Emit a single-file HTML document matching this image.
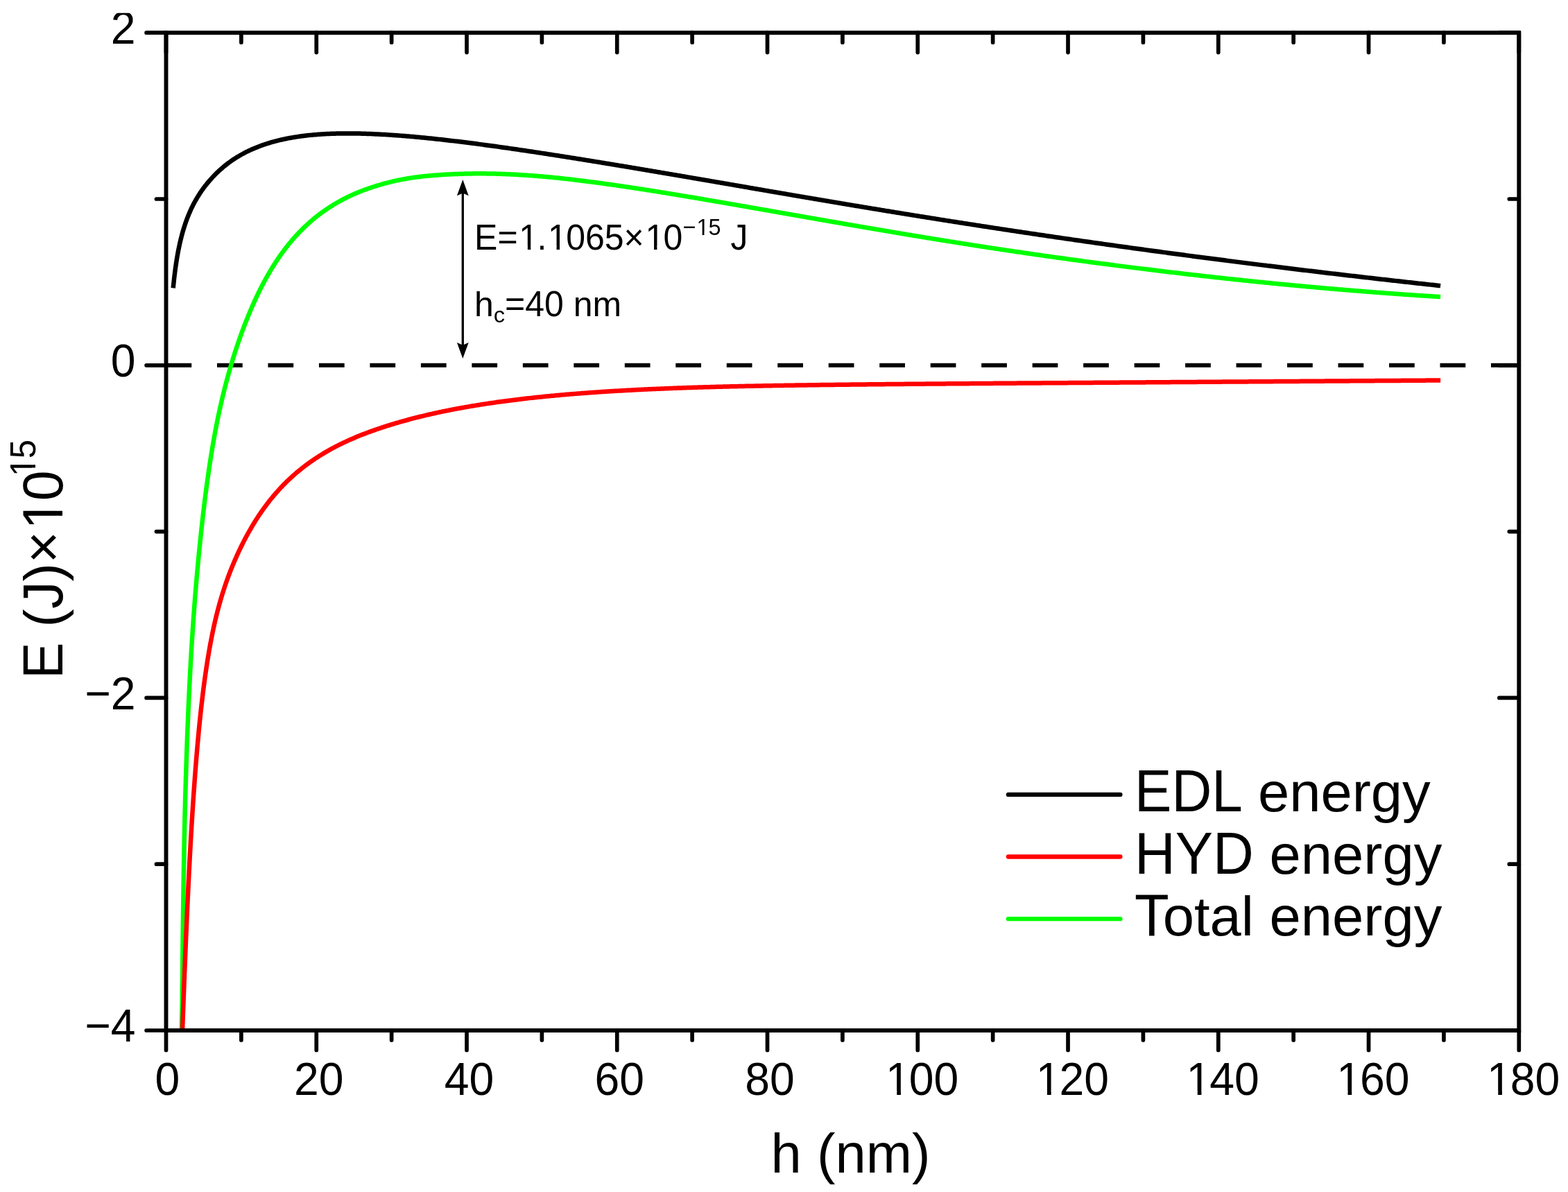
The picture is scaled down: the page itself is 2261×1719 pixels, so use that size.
<!DOCTYPE html>
<html><head><meta charset="utf-8"><title>Interaction energy</title>
<style>
html,body{margin:0;padding:0;background:#fff}
body{width:2261px;height:1719px;overflow:hidden}
svg{display:block}
text{font-family:"Liberation Sans",Arial,Helvetica,sans-serif;fill:#000;white-space:pre;font-kerning:none}
</style></head><body>
<svg width="2261" height="1719" viewBox="0 0 2261 1719">
<rect x="0" y="0" width="2261" height="1719" fill="#fff"/>
<defs><clipPath id="plot"><rect x="239.5" y="47.2" width="1950.8000000000002" height="1438.8"/></clipPath>
<clipPath id="page"><rect x="0" y="18.8" width="2261" height="1719"/></clipPath></defs>
<line x1="239.5" y1="526.80" x2="2190.3" y2="526.80" stroke="#000" stroke-width="6.0" stroke-dasharray="36.74 36.74"/>
<g clip-path="url(#plot)" fill="none" stroke-linejoin="round" stroke-width="6.5">
<path d="M249.70,1700.00 L251.70,1700.00 L253.70,1700.00 L255.70,1700.00 L257.70,1700.00 L258.64,1698.93 L258.66,1696.93 L258.69,1694.93 L258.72,1692.93 L258.74,1690.93 L258.77,1688.93 L258.80,1686.93 L258.82,1684.94 L258.85,1682.94 L258.88,1680.94 L258.91,1678.94 L258.93,1676.94 L258.96,1674.94 L258.99,1672.94 L259.02,1670.94 L259.04,1668.94 L259.07,1666.95 L259.10,1664.95 L259.13,1662.95 L259.16,1660.95 L259.18,1658.95 L259.21,1656.95 L259.24,1654.95 L259.27,1652.95 L259.30,1650.96 L259.33,1648.96 L259.35,1646.96 L259.38,1644.96 L259.41,1642.96 L259.44,1640.96 L259.47,1638.96 L259.50,1636.96 L259.53,1634.97 L259.56,1632.97 L259.59,1630.97 L259.62,1628.97 L259.65,1626.97 L259.68,1624.97 L259.70,1622.97 L259.73,1620.97 L259.76,1618.98 L259.79,1616.98 L259.82,1614.98 L259.85,1612.98 L259.88,1610.98 L259.91,1608.98 L259.94,1606.98 L259.98,1604.98 L260.01,1602.99 L260.04,1600.99 L260.07,1598.99 L260.10,1596.99 L260.13,1594.99 L260.16,1592.99 L260.19,1590.99 L260.22,1588.99 L260.25,1587.00 L260.28,1585.00 L260.32,1583.00 L260.35,1581.00 L260.38,1579.00 L260.41,1577.00 L260.44,1575.00 L260.47,1573.00 L260.51,1571.01 L260.54,1569.01 L260.57,1567.01 L260.60,1565.01 L260.63,1563.01 L260.67,1561.01 L260.70,1559.01 L260.73,1557.01 L260.76,1555.02 L260.80,1553.02 L260.83,1551.02 L260.86,1549.02 L260.90,1547.02 L260.93,1545.02 L260.96,1543.02 L261.00,1541.02 L261.03,1539.03 L261.06,1537.03 L261.10,1535.03 L261.13,1533.03 L261.17,1531.03 L261.20,1529.03 L261.23,1527.03 L261.27,1525.04 L261.30,1523.04 L261.34,1521.04 L261.37,1519.04 L261.41,1517.04 L261.44,1515.04 L261.48,1513.04 L261.51,1511.04 L261.55,1509.05 L261.58,1507.05 L261.62,1505.05 L261.65,1503.05 L261.69,1501.05 L261.72,1499.05 L261.76,1497.05 L261.79,1495.06 L261.83,1493.06 L261.87,1491.06 L261.90,1489.06 L261.94,1487.06 L261.98,1485.06 L262.01,1483.06 L262.05,1481.06 L262.09,1479.07 L262.12,1477.07 L262.16,1475.07 L262.20,1473.07 L262.23,1471.07 L262.27,1469.07 L262.31,1467.07 L262.35,1465.08 L262.38,1463.08 L262.42,1461.08 L262.46,1459.08 L262.50,1457.08 L262.54,1455.08 L262.57,1453.08 L262.61,1451.09 L262.65,1449.09 L262.69,1447.09 L262.71,1445.09 L262.73,1443.09 L262.75,1441.09 L262.76,1439.09 L262.78,1437.09 L262.80,1435.09 L262.82,1433.10 L262.83,1431.10 L262.85,1429.10 L262.87,1427.10 L262.89,1425.10 L262.91,1423.10 L262.93,1421.10 L262.94,1419.10 L262.96,1417.10 L262.98,1415.11 L263.00,1413.11 L263.02,1411.11 L263.04,1409.11 L263.06,1407.11 L263.07,1405.11 L263.09,1403.11 L263.11,1401.11 L263.13,1399.11 L263.15,1397.12 L263.17,1395.12 L263.19,1393.12 L263.21,1391.12 L263.23,1389.12 L263.25,1387.12 L263.27,1385.12 L263.29,1383.12 L263.31,1381.12 L263.33,1379.13 L263.35,1377.13 L263.38,1375.13 L263.40,1373.13 L263.42,1371.13 L263.44,1369.13 L263.46,1367.13 L263.48,1365.13 L263.50,1363.13 L263.53,1361.14 L263.55,1359.14 L263.57,1357.14 L263.59,1355.14 L263.62,1353.14 L263.64,1351.14 L263.66,1349.14 L263.68,1347.14 L263.71,1345.15 L263.73,1343.15 L263.75,1341.15 L263.78,1339.15 L263.80,1337.15 L263.82,1335.15 L263.85,1333.15 L263.87,1331.15 L263.90,1329.15 L263.92,1327.16 L263.95,1325.16 L263.97,1323.16 L264.00,1321.16 L264.02,1319.16 L264.05,1317.16 L264.07,1315.16 L264.10,1313.16 L264.13,1311.17 L264.15,1309.17 L264.18,1307.17 L264.21,1305.17 L264.23,1303.17 L264.26,1301.17 L264.29,1299.17 L264.31,1297.17 L264.34,1295.17 L264.37,1293.18 L264.40,1291.18 L264.43,1289.18 L264.46,1287.18 L264.49,1285.18 L264.51,1283.18 L264.54,1281.18 L264.57,1279.18 L264.60,1277.19 L264.63,1275.19 L264.66,1273.19 L264.69,1271.19 L264.73,1269.19 L264.76,1267.19 L264.79,1265.19 L264.82,1263.19 L264.85,1261.20 L264.88,1259.20 L264.92,1257.20 L264.95,1255.20 L264.98,1253.20 L265.02,1251.20 L265.05,1249.20 L265.09,1247.20 L265.12,1245.21 L265.15,1243.21 L265.19,1241.21 L265.22,1239.21 L265.26,1237.21 L265.30,1235.21 L265.33,1233.21 L265.37,1231.22 L265.41,1229.22 L265.44,1227.22 L265.48,1225.22 L265.52,1223.22 L265.56,1221.22 L265.60,1219.22 L265.64,1217.23 L265.68,1215.23 L265.72,1213.23 L265.76,1211.23 L265.80,1209.23 L265.84,1207.23 L265.88,1205.23 L265.92,1203.24 L265.96,1201.24 L266.01,1199.24 L266.05,1197.24 L266.09,1195.24 L266.14,1193.24 L266.18,1191.24 L266.23,1189.25 L266.27,1187.25 L266.32,1185.25 L266.37,1183.25 L266.41,1181.25 L266.46,1179.25 L266.51,1177.26 L266.56,1175.26 L266.60,1173.26 L266.65,1171.26 L266.70,1169.26 L266.75,1167.26 L266.80,1165.27 L266.85,1163.27 L266.91,1161.27 L266.96,1159.27 L267.01,1157.27 L267.06,1155.27 L267.12,1153.28 L267.17,1151.28 L267.23,1149.28 L267.28,1147.28 L267.34,1145.28 L267.39,1143.28 L267.45,1141.29 L267.50,1139.29 L267.56,1137.29 L267.62,1135.29 L267.68,1133.29 L267.74,1131.30 L267.80,1129.30 L267.86,1127.30 L267.92,1125.30 L267.98,1123.30 L268.04,1121.30 L268.10,1119.31 L268.16,1117.31 L268.22,1115.31 L268.28,1113.31 L268.35,1111.31 L268.41,1109.32 L268.47,1107.32 L268.54,1105.32 L268.60,1103.32 L268.67,1101.32 L268.73,1099.33 L268.80,1097.33 L268.87,1095.33 L268.93,1093.33 L269.00,1091.34 L269.07,1089.34 L269.14,1087.34 L269.21,1085.34 L269.28,1083.34 L269.35,1081.35 L269.42,1079.35 L269.49,1077.35 L269.56,1075.35 L269.63,1073.36 L269.70,1071.36 L269.78,1069.36 L269.85,1067.36 L269.92,1065.37 L270.00,1063.37 L270.07,1061.37 L270.15,1059.37 L270.22,1057.37 L270.30,1055.38 L270.38,1053.38 L270.46,1051.38 L270.53,1049.39 L270.61,1047.39 L270.69,1045.39 L270.77,1043.39 L270.85,1041.40 L270.93,1039.40 L271.02,1037.40 L271.10,1035.40 L271.18,1033.41 L271.27,1031.41 L271.35,1029.41 L271.43,1027.41 L271.52,1025.42 L271.61,1023.42 L271.69,1021.42 L271.78,1019.43 L271.87,1017.43 L271.96,1015.43 L272.05,1013.44 L272.14,1011.44 L272.23,1009.44 L272.32,1007.44 L272.41,1005.45 L272.50,1003.45 L272.60,1001.45 L272.69,999.46 L272.79,997.46 L272.88,995.46 L272.98,993.47 L273.08,991.47 L273.17,989.47 L273.27,987.48 L273.37,985.48 L273.47,983.48 L273.57,981.49 L273.68,979.49 L273.78,977.50 L273.88,975.50 L273.99,973.50 L274.09,971.51 L274.20,969.51 L274.30,967.51 L274.41,965.52 L274.52,963.52 L274.63,961.53 L274.74,959.53 L274.85,957.53 L274.96,955.54 L275.07,953.54 L275.18,951.55 L275.30,949.55 L275.41,947.56 L275.53,945.56 L275.65,943.56 L275.76,941.57 L275.88,939.57 L276.00,937.58 L276.12,935.58 L276.24,933.59 L276.36,931.59 L276.49,929.60 L276.61,927.60 L276.74,925.61 L276.86,923.61 L276.99,921.62 L277.12,919.62 L277.25,917.63 L277.38,915.63 L277.51,913.64 L277.64,911.64 L277.77,909.65 L277.90,907.65 L278.04,905.66 L278.17,903.66 L278.31,901.67 L278.45,899.68 L278.59,897.68 L278.73,895.69 L278.87,893.69 L279.01,891.70 L279.15,889.71 L279.30,887.71 L279.44,885.72 L279.59,883.72 L279.73,881.73 L279.88,879.74 L280.03,877.74 L280.18,875.75 L280.33,873.76 L280.48,871.76 L280.64,869.77 L280.79,867.78 L280.95,865.79 L281.10,863.79 L281.26,861.80 L281.42,859.81 L281.58,857.81 L281.74,855.82 L281.90,853.83 L282.07,851.84 L282.23,849.85 L282.40,847.85 L282.56,845.86 L282.73,843.87 L282.90,841.88 L283.07,839.89 L283.24,837.89 L283.41,835.90 L283.59,833.91 L283.76,831.92 L283.94,829.93 L284.11,827.94 L284.29,825.95 L284.47,823.96 L284.65,821.96 L284.83,819.97 L285.01,817.98 L285.20,815.99 L285.38,814.00 L285.57,812.01 L285.75,810.02 L285.94,808.03 L286.13,806.04 L286.32,804.05 L286.51,802.06 L286.71,800.07 L286.90,798.08 L287.09,796.09 L287.29,794.10 L287.49,792.11 L287.69,790.13 L287.88,788.14 L288.09,786.15 L288.29,784.16 L288.49,782.17 L288.69,780.18 L288.90,778.19 L289.11,776.20 L289.31,774.22 L289.52,772.23 L289.73,770.24 L289.94,768.25 L290.16,766.27 L290.37,764.28 L290.59,762.29 L290.80,760.30 L291.02,758.32 L291.24,756.33 L291.46,754.34 L291.68,752.36 L291.90,750.37 L292.13,748.38 L292.35,746.40 L292.58,744.41 L292.81,742.42 L293.04,740.44 L293.27,738.45 L293.50,736.47 L293.74,734.48 L293.98,732.50 L294.21,730.51 L294.45,728.53 L294.69,726.54 L294.94,724.56 L295.18,722.58 L295.43,720.59 L295.67,718.61 L295.92,716.63 L296.18,714.64 L296.43,712.66 L296.68,710.68 L296.94,708.69 L297.20,706.71 L297.46,704.73 L297.72,702.75 L297.98,700.77 L298.25,698.79 L298.52,696.80 L298.79,694.82 L299.06,692.84 L299.33,690.86 L299.61,688.88 L299.89,686.90 L300.17,684.92 L300.45,682.95 L300.74,680.97 L301.02,678.99 L301.31,677.01 L301.60,675.03 L301.90,673.06 L302.19,671.08 L302.49,669.10 L302.79,667.13 L303.09,665.15 L303.40,663.17 L303.71,661.20 L304.02,659.23 L304.33,657.25 L304.65,655.28 L304.97,653.30 L305.29,651.33 L305.61,649.36 L305.94,647.39 L306.27,645.41 L306.60,643.44 L306.94,641.47 L307.27,639.50 L307.62,637.53 L307.96,635.56 L308.31,633.60 L308.66,631.63 L309.01,629.66 L309.37,627.69 L309.73,625.73 L310.09,623.76 L310.46,621.80 L310.83,619.83 L311.20,617.87 L311.58,615.90 L311.96,613.94 L312.35,611.98 L312.74,610.02 L313.13,608.06 L313.52,606.10 L313.92,604.14 L314.33,602.18 L314.73,600.23 L315.14,598.27 L315.56,596.31 L315.97,594.36 L316.40,592.41 L316.82,590.45 L317.25,588.50 L317.69,586.55 L318.12,584.60 L318.56,582.65 L319.01,580.70 L319.46,578.75 L319.91,576.81 L320.37,574.86 L320.83,572.91 L321.30,570.97 L321.77,569.03 L322.24,567.09 L322.72,565.14 L323.20,563.20 L323.69,561.27 L324.18,559.33 L324.67,557.39 L325.17,555.45 L325.67,553.52 L326.18,551.59 L326.69,549.65 L327.21,547.72 L327.73,545.79 L328.25,543.86 L328.78,541.94 L329.31,540.01 L329.85,538.08 L330.39,536.16 L330.94,534.24 L331.49,532.32 L332.05,530.40 L332.61,528.48 L333.17,526.56 L333.74,524.64 L334.31,522.73 L334.89,520.81 L335.48,518.90 L336.06,516.99 L336.66,515.08 L337.25,513.17 L337.85,511.27 L338.46,509.36 L339.07,507.46 L339.69,505.56 L340.31,503.66 L340.93,501.76 L341.56,499.86 L342.20,497.97 L342.84,496.07 L343.48,494.18 L344.13,492.29 L344.79,490.40 L345.45,488.52 L346.11,486.63 L346.78,484.75 L347.46,482.87 L348.14,480.99 L348.82,479.11 L349.51,477.23 L350.21,475.36 L350.91,473.48 L351.61,471.61 L352.32,469.75 L353.04,467.88 L353.76,466.02 L354.49,464.15 L355.22,462.29 L355.96,460.44 L356.70,458.58 L357.45,456.73 L358.20,454.88 L358.97,453.03 L359.73,451.18 L360.50,449.34 L361.28,447.50 L362.07,445.66 L362.86,443.82 L363.66,441.99 L364.46,440.16 L365.27,438.33 L366.09,436.51 L366.91,434.68 L367.74,432.87 L368.58,431.05 L369.42,429.24 L370.27,427.43 L371.13,425.62 L372.00,423.82 L372.87,422.02 L373.75,420.23 L374.64,418.44 L375.53,416.65 L376.43,414.87 L377.35,413.09 L378.26,411.31 L379.19,409.54 L380.12,407.77 L381.07,406.01 L382.02,404.25 L382.98,402.50 L383.95,400.75 L384.92,399.01 L385.91,397.27 L386.90,395.53 L387.90,393.80 L388.92,392.08 L389.94,390.36 L390.97,388.65 L392.00,386.94 L393.05,385.24 L394.11,383.54 L395.18,381.85 L396.25,380.16 L397.34,378.49 L398.43,376.81 L399.54,375.15 L400.65,373.49 L401.78,371.84 L402.92,370.19 L404.06,368.55 L405.22,366.92 L406.38,365.30 L407.56,363.68 L408.75,362.07 L409.94,360.47 L411.15,358.88 L412.37,357.30 L413.60,355.72 L414.84,354.15 L416.09,352.59 L417.35,351.04 L418.62,349.50 L419.90,347.97 L421.20,346.44 L422.50,344.93 L423.82,343.42 L425.14,341.93 L426.48,340.44 L427.83,338.97 L429.19,337.50 L430.56,336.05 L431.94,334.60 L433.34,333.17 L434.74,331.75 L436.16,330.33 L437.58,328.93 L439.02,327.55 L440.47,326.17 L441.93,324.80 L443.40,323.45 L444.88,322.10 L446.37,320.77 L447.87,319.46 L449.39,318.15 L450.91,316.86 L452.45,315.58 L453.99,314.31 L455.55,313.05 L457.11,311.81 L458.69,310.58 L460.28,309.36 L461.87,308.16 L463.48,306.97 L465.09,305.79 L466.72,304.63 L468.36,303.48 L470.00,302.35 L471.66,301.23 L473.32,300.12 L474.99,299.02 L476.67,297.94 L478.36,296.88 L480.06,295.82 L481.77,294.78 L483.49,293.76 L485.21,292.75 L486.95,291.75 L488.69,290.77 L490.43,289.80 L492.19,288.85 L493.95,287.90 L495.73,286.98 L497.50,286.06 L499.29,285.16 L501.08,284.28 L502.88,283.41 L504.69,282.55 L506.50,281.71 L508.32,280.88 L510.14,280.06 L511.97,279.26 L513.81,278.47 L515.65,277.70 L517.50,276.94 L519.36,276.20 L521.22,275.47 L523.09,274.75 L524.96,274.05 L526.83,273.36 L528.72,272.69 L530.60,272.03 L532.49,271.38 L534.39,270.74 L536.29,270.11 L538.19,269.49 L540.09,268.89 L542.00,268.29 L543.91,267.70 L545.82,267.13 L547.74,266.56 L549.66,266.00 L551.58,265.46 L553.51,264.92 L555.44,264.40 L557.37,263.89 L559.31,263.39 L561.24,262.89 L563.19,262.41 L565.13,261.95 L567.07,261.49 L569.02,261.04 L570.97,260.61 L572.93,260.19 L574.89,259.78 L576.84,259.38 L578.80,258.99 L580.77,258.62 L582.73,258.25 L584.70,257.90 L586.67,257.56 L588.64,257.23 L590.62,256.91 L592.59,256.60 L594.57,256.31 L596.55,256.03 L598.53,255.75 L600.51,255.49 L602.49,255.23 L604.48,254.99 L606.46,254.75 L608.45,254.52 L610.43,254.31 L612.42,254.09 L614.41,253.89 L616.40,253.70 L618.39,253.51 L620.38,253.33 L622.37,253.15 L624.36,252.98 L626.36,252.82 L628.35,252.67 L630.34,252.52 L632.34,252.37 L634.33,252.23 L636.32,252.10 L638.32,251.97 L640.31,251.85 L642.31,251.73 L644.31,251.62 L646.30,251.51 L648.30,251.40 L650.29,251.30 L652.29,251.21 L654.29,251.12 L656.29,251.03 L658.28,250.95 L660.28,250.88 L662.28,250.81 L664.28,250.74 L666.27,250.68 L668.27,250.63 L670.27,250.57 L672.27,250.53 L674.27,250.48 L676.27,250.45 L678.27,250.41 L680.26,250.39 L682.26,250.36 L684.26,250.34 L686.26,250.33 L688.26,250.32 L690.26,250.32 L692.26,250.32 L694.26,250.32 L696.26,250.33 L698.25,250.34 L700.25,250.36 L702.25,250.38 L704.25,250.41 L706.25,250.44 L708.25,250.47 L710.25,250.51 L712.25,250.55 L714.24,250.60 L716.24,250.65 L718.24,250.71 L720.24,250.77 L722.24,250.83 L724.23,250.90 L726.23,250.97 L728.23,251.05 L730.23,251.13 L732.22,251.21 L734.22,251.30 L736.22,251.39 L738.21,251.49 L740.21,251.59 L742.21,251.69 L744.20,251.80 L746.20,251.91 L748.20,252.03 L750.19,252.14 L752.19,252.27 L754.18,252.39 L756.18,252.52 L758.17,252.65 L760.16,252.79 L762.16,252.93 L764.15,253.07 L766.15,253.22 L768.14,253.36 L770.13,253.52 L772.13,253.67 L774.12,253.83 L776.11,253.99 L778.10,254.16 L780.09,254.33 L782.09,254.50 L784.08,254.68 L786.07,254.85 L788.06,255.03 L790.05,255.22 L792.04,255.40 L794.03,255.59 L796.02,255.79 L798.01,255.98 L800.00,256.18 L801.99,256.38 L803.98,256.59 L805.96,256.79 L807.95,257.00 L809.94,257.21 L811.93,257.43 L813.91,257.65 L815.90,257.87 L817.89,258.09 L819.87,258.31 L821.86,258.54 L823.85,258.77 L825.83,259.00 L827.82,259.23 L829.80,259.47 L831.79,259.70 L833.77,259.94 L835.76,260.19 L837.74,260.43 L839.72,260.68 L841.71,260.92 L843.69,261.17 L845.67,261.43 L847.66,261.68 L849.64,261.94 L851.62,262.19 L853.60,262.45 L855.59,262.71 L857.57,262.97 L859.55,263.24 L861.53,263.50 L863.51,263.77 L865.49,264.04 L867.47,264.31 L869.45,264.58 L871.43,264.86 L873.41,265.13 L875.39,265.41 L877.37,265.69 L879.35,265.97 L881.33,266.25 L883.31,266.53 L885.29,266.81 L887.27,267.10 L889.25,267.38 L891.22,267.67 L893.20,267.96 L895.18,268.25 L897.16,268.54 L899.13,268.83 L901.11,269.13 L903.09,269.42 L905.07,269.72 L907.04,270.01 L909.02,270.31 L911.00,270.61 L912.97,270.91 L914.95,271.21 L916.92,271.51 L918.90,271.82 L920.88,272.12 L922.85,272.42 L924.83,272.73 L926.80,273.04 L928.78,273.34 L930.75,273.65 L932.73,273.96 L934.70,274.27 L936.68,274.58 L938.65,274.90 L940.63,275.21 L942.60,275.52 L944.57,275.84 L946.55,276.15 L948.52,276.47 L950.50,276.79 L952.47,277.10 L954.44,277.42 L956.42,277.74 L958.39,278.06 L960.36,278.38 L962.34,278.70 L964.31,279.02 L966.28,279.35 L968.25,279.67 L970.23,279.99 L972.20,280.32 L974.17,280.64 L976.14,280.97 L978.12,281.29 L980.09,281.62 L982.06,281.95 L984.03,282.27 L986.00,282.60 L987.98,282.93 L989.95,283.26 L991.92,283.59 L993.89,283.92 L995.86,284.25 L997.83,284.58 L999.80,284.92 L1001.78,285.25 L1003.75,285.58 L1005.72,285.91 L1007.69,286.25 L1009.66,286.58 L1011.63,286.92 L1013.60,287.25 L1015.57,287.59 L1017.54,287.92 L1019.51,288.26 L1021.48,288.60 L1023.45,288.93 L1025.42,289.27 L1027.39,289.61 L1029.36,289.95 L1031.33,290.29 L1033.30,290.62 L1035.27,290.96 L1037.24,291.30 L1039.21,291.64 L1041.18,291.98 L1043.15,292.32 L1045.12,292.66 L1047.09,293.00 L1049.06,293.35 L1051.03,293.69 L1053.00,294.03 L1054.97,294.37 L1056.94,294.71 L1058.91,295.06 L1060.88,295.40 L1062.85,295.74 L1064.82,296.08 L1066.79,296.43 L1068.76,296.77 L1070.73,297.11 L1072.70,297.46 L1074.66,297.80 L1076.63,298.15 L1078.60,298.49 L1080.57,298.83 L1082.54,299.18 L1084.51,299.52 L1086.48,299.87 L1088.45,300.21 L1090.42,300.56 L1092.39,300.90 L1094.35,301.25 L1096.32,301.59 L1098.29,301.94 L1100.26,302.28 L1102.23,302.63 L1104.20,302.97 L1106.17,303.32 L1108.14,303.66 L1110.11,304.01 L1112.08,304.36 L1114.04,304.70 L1116.01,305.05 L1117.98,305.39 L1119.95,305.74 L1121.92,306.08 L1123.89,306.43 L1125.86,306.77 L1127.83,307.12 L1129.80,307.47 L1131.76,307.81 L1133.73,308.16 L1135.70,308.50 L1137.67,308.85 L1139.64,309.19 L1141.61,309.54 L1143.58,309.88 L1145.55,310.23 L1147.52,310.57 L1149.48,310.92 L1151.45,311.26 L1153.42,311.61 L1155.39,311.95 L1157.36,312.30 L1159.33,312.64 L1161.30,312.99 L1163.27,313.33 L1165.24,313.68 L1167.21,314.02 L1169.17,314.37 L1171.14,314.71 L1173.11,315.06 L1175.08,315.40 L1177.05,315.74 L1179.02,316.09 L1180.99,316.43 L1182.96,316.77 L1184.93,317.12 L1186.90,317.46 L1188.87,317.80 L1190.84,318.15 L1192.81,318.49 L1194.77,318.83 L1196.74,319.18 L1198.71,319.52 L1200.68,319.86 L1202.65,320.20 L1204.62,320.54 L1206.59,320.89 L1208.56,321.23 L1210.53,321.57 L1212.50,321.91 L1214.47,322.25 L1216.44,322.59 L1218.41,322.93 L1220.38,323.27 L1222.35,323.61 L1224.32,323.95 L1226.29,324.29 L1228.26,324.63 L1230.23,324.97 L1232.20,325.31 L1234.17,325.65 L1236.14,325.99 L1238.11,326.33 L1240.08,326.67 L1242.05,327.01 L1244.02,327.34 L1245.99,327.68 L1247.96,328.02 L1249.93,328.36 L1251.90,328.70 L1253.87,329.03 L1255.84,329.37 L1257.81,329.71 L1259.78,330.04 L1261.75,330.38 L1263.72,330.71 L1265.69,331.05 L1267.66,331.39 L1269.63,331.72 L1271.61,332.06 L1273.58,332.39 L1275.55,332.72 L1277.52,333.06 L1279.49,333.39 L1281.46,333.73 L1283.43,334.06 L1285.40,334.39 L1287.37,334.72 L1289.34,335.06 L1291.32,335.39 L1293.29,335.72 L1295.26,336.05 L1297.23,336.38 L1299.20,336.71 L1301.17,337.04 L1303.14,337.37 L1305.12,337.70 L1307.09,338.03 L1309.06,338.36 L1311.03,338.69 L1313.00,339.01 L1314.98,339.34 L1316.95,339.67 L1318.92,339.99 L1320.89,340.32 L1322.86,340.65 L1324.84,340.97 L1326.81,341.30 L1328.78,341.62 L1330.75,341.95 L1332.73,342.27 L1334.70,342.59 L1336.67,342.92 L1338.64,343.24 L1340.62,343.56 L1342.59,343.88 L1344.56,344.20 L1346.54,344.53 L1348.51,344.85 L1350.48,345.17 L1352.46,345.49 L1354.43,345.80 L1356.40,346.12 L1358.38,346.44 L1360.35,346.76 L1362.32,347.08 L1364.30,347.39 L1366.27,347.71 L1368.24,348.03 L1370.22,348.34 L1372.19,348.66 L1374.17,348.97 L1376.14,349.29 L1378.11,349.60 L1380.09,349.91 L1382.06,350.23 L1384.04,350.54 L1386.01,350.85 L1387.99,351.16 L1389.96,351.47 L1391.94,351.78 L1393.91,352.09 L1395.89,352.40 L1397.86,352.71 L1399.84,353.02 L1401.81,353.33 L1403.79,353.63 L1405.76,353.94 L1407.74,354.25 L1409.71,354.55 L1411.69,354.86 L1413.66,355.17 L1415.64,355.47 L1417.61,355.77 L1419.59,356.08 L1421.57,356.38 L1423.54,356.68 L1425.52,356.99 L1427.49,357.29 L1429.47,357.59 L1431.45,357.89 L1433.42,358.19 L1435.40,358.49 L1437.38,358.79 L1439.35,359.09 L1441.33,359.38 L1443.31,359.68 L1445.28,359.98 L1447.26,360.28 L1449.24,360.57 L1451.21,360.87 L1453.19,361.16 L1455.17,361.46 L1457.14,361.75 L1459.12,362.04 L1461.10,362.34 L1463.08,362.63 L1465.05,362.92 L1467.03,363.21 L1469.01,363.50 L1470.99,363.79 L1472.97,364.08 L1474.94,364.37 L1476.92,364.66 L1478.90,364.95 L1480.88,365.24 L1482.86,365.53 L1484.83,365.81 L1486.81,366.10 L1488.79,366.39 L1490.77,366.67 L1492.75,366.96 L1494.73,367.24 L1496.71,367.52 L1498.68,367.81 L1500.66,368.09 L1502.64,368.37 L1504.62,368.65 L1506.60,368.93 L1508.58,369.22 L1510.56,369.50 L1512.54,369.78 L1514.52,370.05 L1516.50,370.33 L1518.48,370.61 L1520.46,370.89 L1522.44,371.17 L1524.42,371.44 L1526.40,371.72 L1528.38,371.99 L1530.36,372.27 L1532.34,372.54 L1534.32,372.82 L1536.30,373.09 L1538.28,373.36 L1540.26,373.64 L1542.24,373.91 L1544.22,374.18 L1546.20,374.45 L1548.18,374.72 L1550.16,374.99 L1552.14,375.26 L1554.12,375.53 L1556.10,375.80 L1558.08,376.07 L1560.06,376.33 L1562.04,376.60 L1564.03,376.87 L1566.01,377.13 L1567.99,377.40 L1569.97,377.66 L1571.95,377.93 L1573.93,378.19 L1575.91,378.45 L1577.90,378.72 L1579.88,378.98 L1581.86,379.24 L1583.84,379.50 L1585.82,379.76 L1587.80,380.02 L1589.79,380.28 L1591.77,380.54 L1593.75,380.80 L1595.73,381.06 L1597.72,381.32 L1599.70,381.58 L1601.68,381.83 L1603.66,382.09 L1605.64,382.34 L1607.63,382.60 L1609.61,382.86 L1611.59,383.11 L1613.58,383.36 L1615.56,383.62 L1617.54,383.87 L1619.52,384.12 L1621.51,384.37 L1623.49,384.63 L1625.47,384.88 L1627.46,385.13 L1629.44,385.38 L1631.42,385.63 L1633.41,385.88 L1635.39,386.12 L1637.37,386.37 L1639.36,386.62 L1641.34,386.87 L1643.33,387.11 L1645.31,387.36 L1647.29,387.60 L1649.28,387.85 L1651.26,388.09 L1653.24,388.34 L1655.23,388.58 L1657.21,388.82 L1659.20,389.07 L1661.18,389.31 L1663.17,389.55 L1665.15,389.79 L1667.13,390.03 L1669.12,390.27 L1671.10,390.51 L1673.09,390.75 L1675.07,390.99 L1677.06,391.23 L1679.04,391.47 L1681.03,391.71 L1683.01,391.94 L1685.00,392.18 L1686.98,392.42 L1688.97,392.65 L1690.95,392.89 L1692.94,393.12 L1694.92,393.35 L1696.91,393.59 L1698.89,393.82 L1700.88,394.05 L1702.86,394.29 L1704.85,394.52 L1706.83,394.75 L1708.82,394.98 L1710.81,395.21 L1712.79,395.44 L1714.78,395.67 L1716.76,395.90 L1718.75,396.13 L1720.74,396.36 L1722.72,396.58 L1724.71,396.81 L1726.69,397.04 L1728.68,397.26 L1730.67,397.49 L1732.65,397.71 L1734.64,397.94 L1736.62,398.16 L1738.61,398.39 L1740.60,398.61 L1742.58,398.83 L1744.57,399.05 L1746.56,399.28 L1748.54,399.50 L1750.53,399.72 L1752.52,399.94 L1754.50,400.16 L1756.49,400.37 L1758.48,400.59 L1760.47,400.81 L1762.45,401.03 L1764.44,401.24 L1766.43,401.46 L1768.41,401.68 L1770.40,401.89 L1772.39,402.11 L1774.38,402.32 L1776.36,402.53 L1778.35,402.75 L1780.34,402.96 L1782.33,403.17 L1784.32,403.38 L1786.30,403.59 L1788.29,403.80 L1790.28,404.01 L1792.27,404.22 L1794.26,404.43 L1796.24,404.64 L1798.23,404.84 L1800.22,405.05 L1802.21,405.26 L1804.20,405.46 L1806.19,405.67 L1808.17,405.87 L1810.16,406.08 L1812.15,406.28 L1814.14,406.48 L1816.13,406.68 L1818.12,406.89 L1820.11,407.09 L1822.09,407.29 L1824.08,407.49 L1826.07,407.69 L1828.06,407.88 L1830.05,408.08 L1832.04,408.28 L1834.03,408.48 L1836.02,408.67 L1838.01,408.87 L1840.00,409.06 L1841.99,409.26 L1843.98,409.45 L1845.97,409.65 L1847.96,409.84 L1849.95,410.03 L1851.94,410.22 L1853.93,410.41 L1855.91,410.60 L1857.90,410.79 L1859.89,410.98 L1861.88,411.17 L1863.88,411.36 L1865.87,411.55 L1867.86,411.74 L1869.85,411.92 L1871.84,412.11 L1873.83,412.29 L1875.82,412.48 L1877.81,412.66 L1879.80,412.85 L1881.79,413.03 L1883.78,413.21 L1885.77,413.39 L1887.76,413.57 L1889.75,413.75 L1891.74,413.93 L1893.73,414.11 L1895.72,414.29 L1897.72,414.47 L1899.71,414.65 L1901.70,414.82 L1903.69,415.00 L1905.68,415.18 L1907.67,415.35 L1909.66,415.53 L1911.65,415.70 L1913.65,415.87 L1915.64,416.05 L1917.63,416.22 L1919.62,416.39 L1921.61,416.56 L1923.60,416.73 L1925.60,416.90 L1927.59,417.07 L1929.58,417.24 L1931.57,417.41 L1933.56,417.57 L1935.55,417.74 L1937.55,417.91 L1939.54,418.07 L1941.53,418.24 L1943.52,418.40 L1945.52,418.57 L1947.51,418.73 L1949.50,418.89 L1951.49,419.06 L1953.48,419.22 L1955.48,419.38 L1957.47,419.54 L1959.46,419.70 L1961.45,419.86 L1963.45,420.02 L1965.44,420.18 L1967.43,420.33 L1969.43,420.49 L1971.42,420.65 L1973.41,420.80 L1975.40,420.96 L1977.40,421.11 L1979.39,421.27 L1981.38,421.42 L1983.38,421.57 L1985.37,421.72 L1987.36,421.88 L1989.36,422.03 L1991.35,422.18 L1993.34,422.33 L1995.34,422.48 L1997.33,422.63 L1999.32,422.77 L2001.32,422.92 L2003.31,423.07 L2005.30,423.22 L2007.30,423.36 L2009.29,423.51 L2011.29,423.65 L2013.28,423.80 L2015.27,423.94 L2017.27,424.08 L2019.26,424.23 L2021.25,424.37 L2023.25,424.51 L2025.24,424.65 L2027.24,424.79 L2029.23,424.93 L2031.22,425.07 L2033.22,425.21 L2035.21,425.35 L2037.21,425.48 L2039.20,425.62 L2041.20,425.76 L2043.19,425.89 L2045.18,426.03 L2047.18,426.16 L2049.17,426.30 L2051.17,426.43 L2053.16,426.56 L2055.16,426.70 L2057.15,426.83 L2059.15,426.96 L2061.14,427.09 L2063.14,427.22 L2065.13,427.35 L2067.13,427.48 L2069.12,427.61 L2071.12,427.74 L2073.11,427.86 L2075.11,427.99 L2077.10,428.12" stroke="#00ff00"/>
<path d="M249.70,1700.00 L251.70,1700.00 L253.70,1700.00 L255.70,1700.00 L257.70,1700.00 L258.71,1698.99 L258.74,1696.99 L258.77,1694.99 L258.80,1692.99 L258.84,1690.99 L258.87,1688.99 L258.90,1686.99 L258.94,1684.99 L258.97,1682.99 L259.01,1680.99 L259.04,1678.99 L259.07,1676.99 L259.11,1674.99 L259.14,1673.00 L259.18,1671.00 L259.21,1669.00 L259.25,1667.00 L259.28,1665.00 L259.31,1663.00 L259.35,1661.00 L259.38,1659.00 L259.42,1657.00 L259.46,1655.00 L259.49,1653.00 L259.53,1651.00 L259.56,1649.00 L259.60,1647.00 L259.63,1645.00 L259.67,1643.00 L259.71,1641.00 L259.74,1639.00 L259.78,1637.00 L259.82,1635.00 L259.85,1633.00 L259.89,1631.00 L259.93,1629.00 L259.96,1627.00 L260.00,1625.01 L260.04,1623.01 L260.08,1621.01 L260.11,1619.01 L260.15,1617.01 L260.19,1615.01 L260.23,1613.01 L260.26,1611.01 L260.30,1609.01 L260.34,1607.01 L260.38,1605.01 L260.42,1603.01 L260.46,1601.01 L260.50,1599.01 L260.54,1597.01 L260.58,1595.01 L260.62,1593.01 L260.66,1591.01 L260.69,1589.01 L260.73,1587.01 L260.78,1585.02 L260.82,1583.02 L260.86,1581.02 L260.90,1579.02 L260.94,1577.02 L260.98,1575.02 L261.02,1573.02 L261.06,1571.02 L261.10,1569.02 L261.14,1567.02 L261.18,1565.02 L261.23,1563.02 L261.27,1561.02 L261.31,1559.02 L261.35,1557.02 L261.40,1555.02 L261.44,1553.02 L261.48,1551.02 L261.52,1549.03 L261.57,1547.03 L261.61,1545.03 L261.65,1543.03 L261.70,1541.03 L261.74,1539.03 L261.79,1537.03 L261.83,1535.03 L261.87,1533.03 L261.92,1531.03 L261.96,1529.03 L262.01,1527.03 L262.05,1525.03 L262.10,1523.03 L262.14,1521.03 L262.19,1519.03 L262.24,1517.03 L262.28,1515.04 L262.33,1513.04 L262.37,1511.04 L262.42,1509.04 L262.47,1507.04 L262.51,1505.04 L262.56,1503.04 L262.61,1501.04 L262.66,1499.04 L262.70,1497.04 L262.75,1495.04 L262.80,1493.04 L262.85,1491.04 L262.90,1489.04 L262.97,1487.05 L263.04,1485.05 L263.12,1483.05 L263.19,1481.05 L263.26,1479.05 L263.34,1477.05 L263.41,1475.05 L263.48,1473.06 L263.56,1471.06 L263.63,1469.06 L263.70,1467.06 L263.78,1465.06 L263.85,1463.06 L263.93,1461.06 L264.00,1459.07 L264.07,1457.07 L264.15,1455.07 L264.22,1453.07 L264.30,1451.07 L264.37,1449.07 L264.45,1447.08 L264.52,1445.08 L264.60,1443.08 L264.67,1441.08 L264.75,1439.08 L264.82,1437.08 L264.90,1435.08 L264.98,1433.09 L265.05,1431.09 L265.13,1429.09 L265.20,1427.09 L265.28,1425.09 L265.36,1423.09 L265.44,1421.10 L265.51,1419.10 L265.59,1417.10 L265.67,1415.10 L265.74,1413.10 L265.82,1411.10 L265.90,1409.11 L265.98,1407.11 L266.06,1405.11 L266.14,1403.11 L266.21,1401.11 L266.29,1399.11 L266.37,1397.12 L266.45,1395.12 L266.53,1393.12 L266.61,1391.12 L266.69,1389.12 L266.77,1387.12 L266.85,1385.13 L266.93,1383.13 L267.01,1381.13 L267.09,1379.13 L267.18,1377.13 L267.26,1375.13 L267.34,1373.14 L267.42,1371.14 L267.50,1369.14 L267.59,1367.14 L267.67,1365.14 L267.75,1363.15 L267.84,1361.15 L267.92,1359.15 L268.00,1357.15 L268.09,1355.15 L268.17,1353.15 L268.26,1351.16 L268.34,1349.16 L268.43,1347.16 L268.51,1345.16 L268.60,1343.16 L268.69,1341.17 L268.77,1339.17 L268.86,1337.17 L268.95,1335.17 L269.03,1333.17 L269.12,1331.18 L269.21,1329.18 L269.30,1327.18 L269.39,1325.18 L269.48,1323.18 L269.56,1321.19 L269.65,1319.19 L269.74,1317.19 L269.83,1315.19 L269.93,1313.20 L270.02,1311.20 L270.11,1309.20 L270.20,1307.20 L270.29,1305.20 L270.38,1303.21 L270.48,1301.21 L270.57,1299.21 L270.66,1297.21 L270.76,1295.22 L270.85,1293.22 L270.95,1291.22 L271.04,1289.22 L271.14,1287.22 L271.23,1285.23 L271.33,1283.23 L271.43,1281.23 L271.52,1279.23 L271.62,1277.24 L271.72,1275.24 L271.82,1273.24 L271.92,1271.24 L272.02,1269.25 L272.12,1267.25 L272.22,1265.25 L272.32,1263.26 L272.42,1261.26 L272.52,1259.26 L272.62,1257.26 L272.72,1255.27 L272.83,1253.27 L272.93,1251.27 L273.03,1249.27 L273.14,1247.28 L273.24,1245.28 L273.35,1243.28 L273.45,1241.29 L273.56,1239.29 L273.67,1237.29 L273.77,1235.29 L273.88,1233.30 L273.99,1231.30 L274.10,1229.30 L274.21,1227.31 L274.32,1225.31 L274.43,1223.31 L274.54,1221.32 L274.65,1219.32 L274.76,1217.32 L274.88,1215.33 L274.99,1213.33 L275.11,1211.33 L275.22,1209.34 L275.34,1207.34 L275.45,1205.34 L275.57,1203.35 L275.68,1201.35 L275.80,1199.35 L275.92,1197.36 L276.04,1195.36 L276.16,1193.36 L276.28,1191.37 L276.40,1189.37 L276.52,1187.38 L276.64,1185.38 L276.77,1183.38 L276.89,1181.39 L277.02,1179.39 L277.14,1177.40 L277.27,1175.40 L277.39,1173.40 L277.52,1171.41 L277.65,1169.41 L277.78,1167.42 L277.91,1165.42 L278.04,1163.43 L278.17,1161.43 L278.30,1159.43 L278.43,1157.44 L278.56,1155.44 L278.70,1153.45 L278.83,1151.45 L278.97,1149.46 L279.11,1147.46 L279.24,1145.47 L279.38,1143.47 L279.52,1141.48 L279.66,1139.48 L279.80,1137.49 L279.95,1135.49 L280.09,1133.50 L280.23,1131.50 L280.38,1129.51 L280.52,1127.51 L280.67,1125.52 L280.82,1123.52 L280.97,1121.53 L281.11,1119.54 L281.27,1117.54 L281.42,1115.55 L281.57,1113.55 L281.72,1111.56 L281.88,1109.57 L282.03,1107.57 L282.19,1105.58 L282.35,1103.58 L282.51,1101.59 L282.67,1099.60 L282.83,1097.60 L282.99,1095.61 L283.16,1093.62 L283.32,1091.62 L283.49,1089.63 L283.65,1087.64 L283.82,1085.65 L283.99,1083.65 L284.16,1081.66 L284.34,1079.67 L284.51,1077.68 L284.69,1075.68 L284.86,1073.69 L285.04,1071.70 L285.22,1069.71 L285.40,1067.72 L285.58,1065.72 L285.77,1063.73 L285.95,1061.74 L286.14,1059.75 L286.32,1057.76 L286.51,1055.77 L286.70,1053.78 L286.90,1051.79 L287.09,1049.80 L287.29,1047.81 L287.48,1045.82 L287.68,1043.83 L287.88,1041.84 L288.09,1039.85 L288.29,1037.86 L288.50,1035.87 L288.71,1033.88 L288.92,1031.89 L289.13,1029.90 L289.34,1027.91 L289.56,1025.93 L289.77,1023.94 L289.99,1021.95 L290.21,1019.96 L290.44,1017.97 L290.66,1015.99 L290.89,1014.00 L291.12,1012.01 L291.35,1010.03 L291.59,1008.04 L291.82,1006.06 L292.06,1004.07 L292.30,1002.08 L292.55,1000.10 L292.79,998.11 L293.04,996.13 L293.29,994.15 L293.54,992.16 L293.80,990.18 L294.06,988.20 L294.32,986.21 L294.58,984.23 L294.85,982.25 L295.12,980.27 L295.39,978.29 L295.67,976.30 L295.94,974.32 L296.22,972.34 L296.51,970.36 L296.80,968.39 L297.09,966.41 L297.38,964.43 L297.68,962.45 L297.98,960.47 L298.28,958.50 L298.59,956.52 L298.90,954.54 L299.21,952.57 L299.53,950.60 L299.85,948.62 L300.17,946.65 L300.50,944.68 L300.83,942.70 L301.17,940.73 L301.51,938.76 L301.86,936.79 L302.20,934.82 L302.56,932.85 L302.91,930.89 L303.27,928.92 L303.64,926.95 L304.01,924.99 L304.39,923.02 L304.76,921.06 L305.15,919.10 L305.54,917.13 L305.93,915.17 L306.33,913.21 L306.74,911.26 L307.15,909.30 L307.56,907.34 L307.98,905.39 L308.41,903.43 L308.84,901.48 L309.28,899.53 L309.72,897.58 L310.17,895.63 L310.63,893.68 L311.09,891.74 L311.56,889.79 L312.03,887.85 L312.51,885.91 L313.00,883.97 L313.50,882.03 L314.00,880.10 L314.51,878.16 L315.02,876.23 L315.54,874.30 L316.07,872.37 L316.61,870.44 L317.15,868.52 L317.70,866.60 L318.26,864.67 L318.82,862.76 L319.39,860.84 L319.97,858.93 L320.56,857.01 L321.15,855.10 L321.75,853.20 L322.36,851.29 L322.98,849.39 L323.60,847.49 L324.23,845.59 L324.87,843.70 L325.52,841.80 L326.17,839.91 L326.84,838.03 L327.51,836.14 L328.19,834.26 L328.87,832.38 L329.57,830.51 L330.27,828.64 L330.98,826.77 L331.70,824.90 L332.42,823.04 L333.16,821.17 L333.90,819.32 L334.65,817.46 L335.40,815.61 L336.17,813.77 L336.94,811.92 L337.72,810.08 L338.51,808.24 L339.31,806.41 L340.12,804.58 L340.93,802.75 L341.75,800.93 L342.58,799.11 L343.42,797.29 L344.26,795.48 L345.12,793.67 L345.98,791.87 L346.85,790.06 L347.72,788.27 L348.61,786.47 L349.50,784.68 L350.40,782.90 L351.31,781.12 L352.23,779.34 L353.15,777.56 L354.08,775.80 L355.02,774.03 L355.97,772.27 L356.93,770.52 L357.90,768.76 L358.87,767.02 L359.86,765.28 L360.85,763.54 L361.85,761.81 L362.86,760.08 L363.88,758.36 L364.91,756.65 L365.95,754.94 L366.99,753.24 L368.05,751.54 L369.12,749.85 L370.19,748.16 L371.28,746.48 L372.37,744.81 L373.48,743.14 L374.59,741.48 L375.72,739.82 L376.85,738.18 L378.00,736.54 L379.15,734.90 L380.31,733.28 L381.49,731.66 L382.67,730.05 L383.87,728.44 L385.07,726.85 L386.29,725.26 L387.51,723.68 L388.75,722.11 L389.99,720.54 L391.25,718.99 L392.52,717.44 L393.79,715.90 L395.08,714.37 L396.38,712.85 L397.68,711.33 L399.00,709.83 L400.33,708.33 L401.67,706.85 L403.02,705.37 L404.38,703.90 L405.75,702.45 L407.13,701.00 L408.52,699.56 L409.92,698.13 L411.33,696.71 L412.75,695.31 L414.18,693.91 L415.62,692.52 L417.07,691.14 L418.53,689.78 L420.00,688.42 L421.48,687.07 L422.96,685.74 L424.46,684.41 L425.97,683.10 L427.49,681.80 L429.02,680.51 L430.55,679.23 L432.10,677.96 L433.65,676.70 L435.21,675.45 L436.79,674.21 L438.37,672.99 L439.96,671.78 L441.55,670.57 L443.16,669.38 L444.78,668.20 L446.40,667.03 L448.03,665.88 L449.67,664.73 L451.31,663.59 L452.97,662.47 L454.63,661.36 L456.30,660.26 L457.98,659.17 L459.66,658.09 L461.35,657.02 L463.05,655.96 L464.75,654.92 L466.46,653.88 L468.18,652.86 L469.91,651.85 L471.64,650.84 L473.37,649.85 L475.12,648.87 L476.87,647.90 L478.62,646.94 L480.38,645.99 L482.15,645.06 L483.92,644.13 L485.70,643.21 L487.48,642.30 L489.27,641.41 L491.06,640.52 L492.86,639.64 L494.66,638.78 L496.47,637.92 L498.28,637.07 L500.09,636.23 L501.91,635.40 L503.74,634.58 L505.56,633.77 L507.40,632.97 L509.23,632.18 L511.07,631.39 L512.91,630.61 L514.76,629.85 L516.61,629.09 L518.46,628.33 L520.32,627.59 L522.18,626.85 L524.04,626.13 L525.91,625.41 L527.78,624.69 L529.65,623.99 L531.52,623.29 L533.40,622.60 L535.28,621.91 L537.16,621.24 L539.04,620.57 L540.93,619.90 L542.82,619.25 L544.71,618.60 L546.60,617.95 L548.50,617.32 L550.40,616.69 L552.30,616.06 L554.20,615.44 L556.10,614.83 L558.01,614.22 L559.92,613.62 L561.83,613.03 L563.74,612.44 L565.65,611.85 L567.56,611.27 L569.48,610.70 L571.40,610.13 L573.32,609.57 L575.24,609.01 L577.16,608.46 L579.08,607.91 L581.01,607.37 L582.93,606.83 L584.86,606.30 L586.79,605.77 L588.72,605.25 L590.65,604.73 L592.59,604.22 L594.52,603.71 L596.46,603.21 L598.39,602.71 L600.33,602.22 L602.27,601.73 L604.21,601.25 L606.15,600.77 L608.09,600.29 L610.04,599.82 L611.98,599.35 L613.93,598.89 L615.88,598.44 L617.82,597.98 L619.77,597.53 L621.72,597.09 L623.67,596.65 L625.63,596.21 L627.58,595.78 L629.53,595.35 L631.49,594.93 L633.44,594.51 L635.40,594.10 L637.35,593.68 L639.31,593.28 L641.27,592.87 L643.23,592.47 L645.19,592.08 L647.15,591.69 L649.11,591.30 L651.08,590.91 L653.04,590.53 L655.00,590.15 L656.97,589.78 L658.93,589.41 L660.90,589.04 L662.87,588.68 L664.83,588.32 L666.80,587.97 L668.77,587.61 L670.74,587.26 L672.71,586.92 L674.68,586.58 L676.65,586.24 L678.62,585.90 L680.59,585.57 L682.57,585.24 L684.54,584.91 L686.51,584.59 L688.49,584.27 L690.46,583.95 L692.44,583.64 L694.41,583.33 L696.39,583.02 L698.37,582.71 L700.34,582.41 L702.32,582.11 L704.30,581.81 L706.28,581.52 L708.25,581.23 L710.23,580.94 L712.21,580.66 L714.19,580.37 L716.17,580.09 L718.15,579.82 L720.13,579.54 L722.12,579.27 L724.10,579.00 L726.08,578.73 L728.06,578.47 L730.04,578.20 L732.03,577.94 L734.01,577.69 L735.99,577.43 L737.98,577.18 L739.96,576.93 L741.95,576.68 L743.93,576.44 L745.92,576.19 L747.90,575.95 L749.89,575.72 L751.87,575.48 L753.86,575.25 L755.85,575.01 L757.83,574.78 L759.82,574.56 L761.81,574.33 L763.79,574.11 L765.78,573.89 L767.77,573.67 L769.76,573.46 L771.75,573.24 L773.73,573.03 L775.72,572.82 L777.71,572.61 L779.70,572.41 L781.69,572.20 L783.68,572.00 L785.67,571.80 L787.66,571.60 L789.65,571.41 L791.64,571.21 L793.63,571.02 L795.62,570.83 L797.61,570.64 L799.61,570.45 L801.60,570.27 L803.59,570.09 L805.58,569.91 L807.57,569.73 L809.56,569.55 L811.56,569.37 L813.55,569.20 L815.54,569.03 L817.53,568.86 L819.53,568.69 L821.52,568.52 L823.51,568.36 L825.50,568.19 L827.50,568.03 L829.49,567.87 L831.49,567.71 L833.48,567.55 L835.47,567.40 L837.47,567.24 L839.46,567.09 L841.45,566.94 L843.45,566.79 L845.44,566.64 L847.44,566.50 L849.43,566.35 L851.43,566.21 L853.42,566.06 L855.42,565.92 L857.41,565.78 L859.41,565.65 L861.40,565.51 L863.40,565.38 L865.39,565.24 L867.39,565.11 L869.38,564.98 L871.38,564.85 L873.38,564.72 L875.37,564.59 L877.37,564.47 L879.36,564.34 L881.36,564.22 L883.36,564.10 L885.35,563.98 L887.35,563.86 L889.35,563.74 L891.34,563.62 L893.34,563.51 L895.33,563.39 L897.33,563.28 L899.33,563.17 L901.32,563.06 L903.32,562.95 L905.32,562.84 L907.32,562.73 L909.31,562.63 L911.31,562.52 L913.31,562.42 L915.30,562.31 L917.30,562.21 L919.30,562.11 L921.30,562.01 L923.29,561.91 L925.29,561.82 L927.29,561.72 L929.29,561.62 L931.28,561.53 L933.28,561.44 L935.28,561.34 L937.28,561.25 L939.28,561.16 L941.27,561.07 L943.27,560.98 L945.27,560.90 L947.27,560.81 L949.26,560.72 L951.26,560.64 L953.26,560.55 L955.26,560.47 L957.26,560.39 L959.26,560.31 L961.25,560.23 L963.25,560.15 L965.25,560.07 L967.25,559.99 L969.25,559.91 L971.25,559.84 L973.24,559.76 L975.24,559.69 L977.24,559.62 L979.24,559.54 L981.24,559.47 L983.24,559.40 L985.24,559.33 L987.23,559.26 L989.23,559.19 L991.23,559.12 L993.23,559.06 L995.23,558.99 L997.23,558.92 L999.23,558.86 L1001.23,558.79 L1003.22,558.73 L1005.22,558.67 L1007.22,558.61 L1009.22,558.55 L1011.22,558.48 L1013.22,558.43 L1015.22,558.37 L1017.22,558.31 L1019.22,558.25 L1021.22,558.19 L1023.21,558.14 L1025.21,558.08 L1027.21,558.02 L1029.21,557.97 L1031.21,557.92 L1033.21,557.86 L1035.21,557.81 L1037.21,557.76 L1039.21,557.71 L1041.21,557.66 L1043.21,557.61 L1045.21,557.56 L1047.21,557.51 L1049.20,557.46 L1051.20,557.41 L1053.20,557.36 L1055.20,557.32 L1057.20,557.27 L1059.20,557.22 L1061.20,557.18 L1063.20,557.13 L1065.20,557.09 L1067.20,557.05 L1069.20,557.00 L1071.20,556.96 L1073.20,556.92 L1075.20,556.87 L1077.20,556.83 L1079.20,556.79 L1081.19,556.75 L1083.19,556.71 L1085.19,556.67 L1087.19,556.63 L1089.19,556.59 L1091.19,556.55 L1093.19,556.52 L1095.19,556.48 L1097.19,556.44 L1099.19,556.40 L1101.19,556.37 L1103.19,556.33 L1105.19,556.29 L1107.19,556.26 L1109.19,556.22 L1111.19,556.19 L1113.19,556.15 L1115.19,556.12 L1117.19,556.09 L1119.19,556.05 L1121.19,556.02 L1123.19,555.99 L1125.19,555.95 L1127.18,555.92 L1129.18,555.89 L1131.18,555.86 L1133.18,555.83 L1135.18,555.79 L1137.18,555.76 L1139.18,555.73 L1141.18,555.70 L1143.18,555.67 L1145.18,555.64 L1147.18,555.61 L1149.18,555.58 L1151.18,555.56 L1153.18,555.53 L1155.18,555.50 L1157.18,555.47 L1159.18,555.44 L1161.18,555.41 L1163.18,555.39 L1165.18,555.36 L1167.18,555.33 L1169.18,555.31 L1171.18,555.28 L1173.18,555.25 L1175.18,555.23 L1177.18,555.20 L1179.18,555.18 L1181.18,555.15 L1183.18,555.12 L1185.18,555.10 L1187.18,555.07 L1189.18,555.05 L1191.17,555.02 L1193.17,555.00 L1195.17,554.98 L1197.17,554.95 L1199.17,554.93 L1201.17,554.90 L1203.17,554.88 L1205.17,554.86 L1207.17,554.83 L1209.17,554.81 L1211.17,554.79 L1213.17,554.77 L1215.17,554.74 L1217.17,554.72 L1219.17,554.70 L1221.17,554.68 L1223.17,554.66 L1225.17,554.63 L1227.17,554.61 L1229.17,554.59 L1231.17,554.57 L1233.17,554.55 L1235.17,554.53 L1237.17,554.51 L1239.17,554.49 L1241.17,554.46 L1243.17,554.44 L1245.17,554.42 L1247.17,554.40 L1249.17,554.38 L1251.17,554.36 L1253.17,554.34 L1255.17,554.32 L1257.17,554.30 L1259.17,554.28 L1261.17,554.26 L1263.17,554.25 L1265.17,554.23 L1267.17,554.21 L1269.17,554.19 L1271.17,554.17 L1273.17,554.15 L1275.17,554.13 L1277.17,554.11 L1279.16,554.09 L1281.16,554.08 L1283.16,554.06 L1285.16,554.04 L1287.16,554.02 L1289.16,554.00 L1291.16,553.98 L1293.16,553.97 L1295.16,553.95 L1297.16,553.93 L1299.16,553.91 L1301.16,553.90 L1303.16,553.88 L1305.16,553.86 L1307.16,553.84 L1309.16,553.83 L1311.16,553.81 L1313.16,553.79 L1315.16,553.78 L1317.16,553.76 L1319.16,553.74 L1321.16,553.72 L1323.16,553.71 L1325.16,553.69 L1327.16,553.67 L1329.16,553.66 L1331.16,553.64 L1333.16,553.63 L1335.16,553.61 L1337.16,553.59 L1339.16,553.58 L1341.16,553.56 L1343.16,553.54 L1345.16,553.53 L1347.16,553.51 L1349.16,553.50 L1351.16,553.48 L1353.16,553.46 L1355.16,553.45 L1357.16,553.43 L1359.16,553.42 L1361.16,553.40 L1363.16,553.39 L1365.16,553.37 L1367.16,553.35 L1369.16,553.34 L1371.16,553.32 L1373.16,553.31 L1375.16,553.29 L1377.16,553.28 L1379.16,553.26 L1381.16,553.25 L1383.16,553.23 L1385.16,553.22 L1387.16,553.20 L1389.16,553.19 L1391.15,553.17 L1393.15,553.16 L1395.15,553.14 L1397.15,553.13 L1399.15,553.11 L1401.15,553.10 L1403.15,553.08 L1405.15,553.07 L1407.15,553.05 L1409.15,553.04 L1411.15,553.02 L1413.15,553.01 L1415.15,552.99 L1417.15,552.98 L1419.15,552.96 L1421.15,552.95 L1423.15,552.94 L1425.15,552.92 L1427.15,552.91 L1429.15,552.89 L1431.15,552.88 L1433.15,552.86 L1435.15,552.85 L1437.15,552.83 L1439.15,552.82 L1441.15,552.81 L1443.15,552.79 L1445.15,552.78 L1447.15,552.76 L1449.15,552.75 L1451.15,552.74 L1453.15,552.72 L1455.15,552.71 L1457.15,552.69 L1459.15,552.68 L1461.15,552.66 L1463.15,552.65 L1465.15,552.64 L1467.15,552.62 L1469.15,552.61 L1471.15,552.59 L1473.15,552.58 L1475.15,552.57 L1477.15,552.55 L1479.15,552.54 L1481.15,552.53 L1483.15,552.51 L1485.15,552.50 L1487.15,552.48 L1489.15,552.47 L1491.15,552.46 L1493.15,552.44 L1495.15,552.43 L1497.15,552.41 L1499.15,552.40 L1501.15,552.39 L1503.15,552.37 L1505.15,552.36 L1507.15,552.35 L1509.15,552.33 L1511.15,552.32 L1513.14,552.31 L1515.14,552.29 L1517.14,552.28 L1519.14,552.26 L1521.14,552.25 L1523.14,552.24 L1525.14,552.22 L1527.14,552.21 L1529.14,552.20 L1531.14,552.18 L1533.14,552.17 L1535.14,552.16 L1537.14,552.14 L1539.14,552.13 L1541.14,552.11 L1543.14,552.10 L1545.14,552.09 L1547.14,552.07 L1549.14,552.06 L1551.14,552.05 L1553.14,552.03 L1555.14,552.02 L1557.14,552.01 L1559.14,551.99 L1561.14,551.98 L1563.14,551.97 L1565.14,551.95 L1567.14,551.94 L1569.14,551.93 L1571.14,551.91 L1573.14,551.90 L1575.14,551.89 L1577.14,551.87 L1579.14,551.86 L1581.14,551.85 L1583.14,551.83 L1585.14,551.82 L1587.14,551.80 L1589.14,551.79 L1591.14,551.78 L1593.14,551.76 L1595.14,551.75 L1597.14,551.74 L1599.14,551.72 L1601.14,551.71 L1603.14,551.70 L1605.14,551.68 L1607.14,551.67 L1609.14,551.66 L1611.14,551.64 L1613.14,551.63 L1615.14,551.62 L1617.14,551.60 L1619.14,551.59 L1621.14,551.58 L1623.14,551.56 L1625.14,551.55 L1627.14,551.54 L1629.14,551.52 L1631.14,551.51 L1633.14,551.50 L1635.14,551.48 L1637.14,551.47 L1639.13,551.46 L1641.13,551.44 L1643.13,551.43 L1645.13,551.42 L1647.13,551.40 L1649.13,551.39 L1651.13,551.38 L1653.13,551.36 L1655.13,551.35 L1657.13,551.34 L1659.13,551.32 L1661.13,551.31 L1663.13,551.30 L1665.13,551.28 L1667.13,551.27 L1669.13,551.26 L1671.13,551.24 L1673.13,551.23 L1675.13,551.22 L1677.13,551.20 L1679.13,551.19 L1681.13,551.18 L1683.13,551.16 L1685.13,551.15 L1687.13,551.14 L1689.13,551.12 L1691.13,551.11 L1693.13,551.10 L1695.13,551.08 L1697.13,551.07 L1699.13,551.06 L1701.13,551.04 L1703.13,551.03 L1705.13,551.01 L1707.13,551.00 L1709.13,550.99 L1711.13,550.97 L1713.13,550.96 L1715.13,550.95 L1717.13,550.93 L1719.13,550.92 L1721.13,550.91 L1723.13,550.89 L1725.13,550.88 L1727.13,550.87 L1729.13,550.85 L1731.13,550.84 L1733.13,550.83 L1735.13,550.81 L1737.13,550.80 L1739.13,550.79 L1741.13,550.77 L1743.13,550.76 L1745.13,550.75 L1747.13,550.73 L1749.13,550.72 L1751.13,550.71 L1753.13,550.69 L1755.13,550.68 L1757.13,550.67 L1759.13,550.65 L1761.13,550.64 L1763.13,550.62 L1765.12,550.61 L1767.12,550.60 L1769.12,550.58 L1771.12,550.57 L1773.12,550.56 L1775.12,550.54 L1777.12,550.53 L1779.12,550.52 L1781.12,550.50 L1783.12,550.49 L1785.12,550.48 L1787.12,550.46 L1789.12,550.45 L1791.12,550.44 L1793.12,550.42 L1795.12,550.41 L1797.12,550.40 L1799.12,550.38 L1801.12,550.37 L1803.12,550.35 L1805.12,550.34 L1807.12,550.33 L1809.12,550.31 L1811.12,550.30 L1813.12,550.29 L1815.12,550.27 L1817.12,550.26 L1819.12,550.25 L1821.12,550.23 L1823.12,550.22 L1825.12,550.21 L1827.12,550.19 L1829.12,550.18 L1831.12,550.16 L1833.12,550.15 L1835.12,550.14 L1837.12,550.12 L1839.12,550.11 L1841.12,550.10 L1843.12,550.08 L1845.12,550.07 L1847.12,550.06 L1849.12,550.04 L1851.12,550.03 L1853.12,550.02 L1855.12,550.00 L1857.12,549.99 L1859.12,549.97 L1861.12,549.96 L1863.12,549.95 L1865.12,549.93 L1867.12,549.92 L1869.12,549.91 L1871.12,549.89 L1873.12,549.88 L1875.12,549.87 L1877.12,549.85 L1879.12,549.84 L1881.12,549.82 L1883.12,549.81 L1885.12,549.80 L1887.12,549.78 L1889.12,549.77 L1891.11,549.76 L1893.11,549.74 L1895.11,549.73 L1897.11,549.71 L1899.11,549.70 L1901.11,549.69 L1903.11,549.67 L1905.11,549.66 L1907.11,549.65 L1909.11,549.63 L1911.11,549.62 L1913.11,549.61 L1915.11,549.59 L1917.11,549.58 L1919.11,549.56 L1921.11,549.55 L1923.11,549.54 L1925.11,549.52 L1927.11,549.51 L1929.11,549.50 L1931.11,549.48 L1933.11,549.47 L1935.11,549.45 L1937.11,549.44 L1939.11,549.43 L1941.11,549.41 L1943.11,549.40 L1945.11,549.39 L1947.11,549.37 L1949.11,549.36 L1951.11,549.34 L1953.11,549.33 L1955.11,549.32 L1957.11,549.30 L1959.11,549.29 L1961.11,549.28 L1963.11,549.26 L1965.11,549.25 L1967.11,549.23 L1969.11,549.22 L1971.11,549.21 L1973.11,549.19 L1975.11,549.18 L1977.11,549.17 L1979.11,549.15 L1981.11,549.14 L1983.11,549.12 L1985.11,549.11 L1987.11,549.10 L1989.11,549.08 L1991.11,549.07 L1993.11,549.06 L1995.11,549.04 L1997.11,549.03 L1999.11,549.01 L2001.11,549.00 L2003.11,548.99 L2005.11,548.97 L2007.11,548.96 L2009.11,548.94 L2011.11,548.93 L2013.11,548.92 L2015.10,548.90 L2017.10,548.89 L2019.10,548.88 L2021.10,548.86 L2023.10,548.85 L2025.10,548.83 L2027.10,548.82 L2029.10,548.81 L2031.10,548.79 L2033.10,548.78 L2035.10,548.76 L2037.10,548.75 L2039.10,548.74 L2041.10,548.72 L2043.10,548.71 L2045.10,548.70 L2047.10,548.68 L2049.10,548.67 L2051.10,548.65 L2053.10,548.64 L2055.10,548.63 L2057.10,548.61 L2059.10,548.60 L2061.10,548.58 L2063.10,548.57 L2065.10,548.56 L2067.10,548.54 L2069.10,548.53 L2071.10,548.52 L2073.10,548.50 L2075.10,548.49 L2077.10,548.47" stroke="#ff0000"/>
<path d="M249.70,415.42 L249.89,413.43 L250.09,411.44 L250.29,409.45 L250.50,407.46 L250.71,405.48 L250.92,403.49 L251.15,401.50 L251.37,399.51 L251.61,397.53 L251.85,395.54 L252.09,393.56 L252.35,391.57 L252.60,389.59 L252.87,387.61 L253.14,385.63 L253.42,383.65 L253.71,381.67 L254.00,379.69 L254.30,377.71 L254.61,375.74 L254.93,373.76 L255.26,371.79 L255.59,369.82 L255.94,367.85 L256.29,365.88 L256.65,363.91 L257.02,361.95 L257.40,359.99 L257.80,358.03 L258.20,356.07 L258.61,354.11 L259.04,352.16 L259.47,350.21 L259.92,348.26 L260.38,346.31 L260.85,344.37 L261.34,342.43 L261.84,340.49 L262.35,338.56 L262.87,336.63 L263.41,334.70 L263.97,332.78 L264.53,330.86 L265.12,328.95 L265.71,327.04 L266.33,325.14 L266.96,323.24 L267.60,321.35 L268.26,319.46 L268.94,317.58 L269.64,315.70 L270.35,313.84 L271.08,311.97 L271.83,310.12 L272.60,308.27 L273.39,306.44 L274.19,304.60 L275.01,302.78 L275.85,300.97 L276.72,299.16 L277.60,297.37 L278.50,295.58 L279.42,293.81 L280.35,292.04 L281.31,290.29 L282.29,288.54 L283.29,286.81 L284.31,285.09 L285.34,283.38 L286.40,281.68 L287.48,280.00 L288.57,278.32 L289.69,276.66 L290.82,275.02 L291.98,273.38 L293.15,271.76 L294.34,270.16 L295.55,268.56 L296.78,266.99 L298.02,265.42 L299.29,263.87 L300.57,262.33 L301.86,260.81 L303.18,259.31 L304.51,257.81 L305.86,256.33 L307.22,254.87 L308.60,253.42 L309.99,251.99 L311.41,250.57 L312.83,249.17 L314.28,247.79 L315.74,246.42 L317.21,245.08 L318.71,243.74 L320.21,242.43 L321.74,241.13 L323.27,239.86 L324.83,238.60 L326.40,237.36 L327.98,236.13 L329.58,234.93 L331.19,233.75 L332.81,232.58 L334.45,231.44 L336.11,230.31 L337.77,229.21 L339.45,228.12 L341.14,227.05 L342.85,226.01 L344.56,224.98 L346.29,223.97 L348.03,222.99 L349.78,222.02 L351.54,221.07 L353.31,220.14 L355.09,219.23 L356.88,218.34 L358.68,217.47 L360.49,216.62 L362.31,215.79 L364.14,214.98 L365.97,214.18 L367.82,213.41 L369.67,212.65 L371.53,211.91 L373.39,211.19 L375.26,210.49 L377.14,209.80 L379.03,209.13 L380.92,208.48 L382.81,207.85 L384.72,207.23 L386.62,206.63 L388.54,206.04 L390.45,205.47 L392.37,204.92 L394.30,204.38 L396.23,203.86 L398.16,203.35 L400.10,202.86 L402.04,202.38 L403.99,201.92 L405.94,201.47 L407.89,201.03 L409.85,200.61 L411.80,200.20 L413.76,199.81 L415.73,199.43 L417.69,199.06 L419.66,198.70 L421.63,198.35 L423.60,198.02 L425.57,197.70 L427.55,197.39 L429.53,197.09 L431.51,196.80 L433.49,196.53 L435.47,196.26 L437.45,196.01 L439.44,195.76 L441.42,195.53 L443.41,195.31 L445.40,195.09 L447.39,194.89 L449.38,194.69 L451.37,194.51 L453.36,194.33 L455.35,194.16 L457.35,194.00 L459.34,193.85 L461.34,193.71 L463.33,193.57 L465.33,193.45 L467.32,193.33 L469.32,193.22 L471.32,193.12 L473.31,193.02 L475.31,192.94 L477.31,192.86 L479.31,192.78 L481.31,192.72 L483.31,192.66 L485.30,192.60 L487.30,192.56 L489.30,192.52 L491.30,192.49 L493.30,192.46 L495.30,192.44 L497.30,192.42 L499.30,192.41 L501.30,192.41 L503.30,192.41 L505.30,192.42 L507.30,192.43 L509.30,192.45 L511.30,192.47 L513.30,192.50 L515.30,192.53 L517.30,192.57 L519.30,192.61 L521.30,192.66 L523.30,192.71 L525.29,192.77 L527.29,192.83 L529.29,192.90 L531.29,192.97 L533.29,193.04 L535.29,193.12 L537.28,193.20 L539.28,193.29 L541.28,193.38 L543.28,193.48 L545.27,193.57 L547.27,193.68 L549.27,193.78 L551.27,193.89 L553.26,194.01 L555.26,194.12 L557.25,194.24 L559.25,194.37 L561.25,194.49 L563.24,194.62 L565.24,194.76 L567.23,194.89 L569.23,195.03 L571.22,195.17 L573.22,195.32 L575.21,195.47 L577.20,195.62 L579.20,195.77 L581.19,195.93 L583.18,196.09 L585.18,196.25 L587.17,196.42 L589.16,196.59 L591.16,196.76 L593.15,196.93 L595.14,197.11 L597.13,197.28 L599.12,197.46 L601.12,197.65 L603.11,197.83 L605.10,198.02 L607.09,198.21 L609.08,198.40 L611.07,198.60 L613.06,198.79 L615.05,198.99 L617.04,199.19 L619.03,199.40 L621.02,199.60 L623.01,199.81 L624.99,200.02 L626.98,200.23 L628.97,200.44 L630.96,200.66 L632.95,200.87 L634.94,201.09 L636.92,201.31 L638.91,201.53 L640.90,201.76 L642.88,201.98 L644.87,202.21 L646.86,202.44 L648.84,202.67 L650.83,202.90 L652.82,203.14 L654.80,203.37 L656.79,203.61 L658.77,203.85 L660.76,204.09 L662.74,204.33 L664.73,204.57 L666.71,204.82 L668.70,205.06 L670.68,205.31 L672.67,205.56 L674.65,205.81 L676.63,206.06 L678.62,206.31 L680.60,206.57 L682.58,206.82 L684.57,207.08 L686.55,207.34 L688.53,207.59 L690.52,207.86 L692.50,208.12 L694.48,208.38 L696.46,208.64 L698.45,208.91 L700.43,209.18 L702.41,209.44 L704.39,209.71 L706.37,209.98 L708.35,210.25 L710.34,210.52 L712.32,210.80 L714.30,211.07 L716.28,211.34 L718.26,211.62 L720.24,211.90 L722.22,212.17 L724.20,212.45 L726.18,212.73 L728.16,213.01 L730.14,213.30 L732.12,213.58 L734.10,213.86 L736.08,214.15 L738.06,214.43 L740.04,214.72 L742.02,215.00 L743.99,215.29 L745.97,215.58 L747.95,215.87 L749.93,216.16 L751.91,216.45 L753.89,216.74 L755.87,217.03 L757.84,217.33 L759.82,217.62 L761.80,217.92 L763.78,218.21 L765.76,218.51 L767.73,218.81 L769.71,219.10 L771.69,219.40 L773.66,219.70 L775.64,220.00 L777.62,220.30 L779.60,220.60 L781.57,220.90 L783.55,221.21 L785.53,221.51 L787.50,221.81 L789.48,222.12 L791.46,222.42 L793.43,222.73 L795.41,223.03 L797.38,223.34 L799.36,223.65 L801.34,223.95 L803.31,224.26 L805.29,224.57 L807.26,224.88 L809.24,225.19 L811.21,225.50 L813.19,225.81 L815.17,226.12 L817.14,226.43 L819.12,226.75 L821.09,227.06 L823.07,227.37 L825.04,227.69 L827.02,228.00 L828.99,228.32 L830.97,228.63 L832.94,228.95 L834.91,229.26 L836.89,229.58 L838.86,229.90 L840.84,230.21 L842.81,230.53 L844.79,230.85 L846.76,231.17 L848.73,231.49 L850.71,231.81 L852.68,232.13 L854.66,232.45 L856.63,232.77 L858.60,233.09 L860.58,233.41 L862.55,233.73 L864.53,234.06 L866.50,234.38 L868.47,234.70 L870.45,235.02 L872.42,235.35 L874.39,235.67 L876.37,236.00 L878.34,236.32 L880.31,236.65 L882.29,236.97 L884.26,237.30 L886.23,237.62 L888.20,237.95 L890.18,238.28 L892.15,238.60 L894.12,238.93 L896.10,239.26 L898.07,239.58 L900.04,239.91 L902.01,240.24 L903.99,240.57 L905.96,240.90 L907.93,241.23 L909.90,241.56 L911.88,241.89 L913.85,242.22 L915.82,242.55 L917.79,242.88 L919.77,243.21 L921.74,243.54 L923.71,243.87 L925.68,244.20 L927.65,244.53 L929.63,244.86 L931.60,245.19 L933.57,245.53 L935.54,245.86 L937.51,246.19 L939.49,246.52 L941.46,246.86 L943.43,247.19 L945.40,247.52 L947.37,247.86 L949.34,248.19 L951.32,248.53 L953.29,248.86 L955.26,249.19 L957.23,249.53 L959.20,249.86 L961.17,250.20 L963.14,250.53 L965.12,250.87 L967.09,251.20 L969.06,251.54 L971.03,251.87 L973.00,252.21 L974.97,252.55 L976.94,252.88 L978.92,253.22 L980.89,253.56 L982.86,253.89 L984.83,254.23 L986.80,254.57 L988.77,254.90 L990.74,255.24 L992.71,255.58 L994.68,255.91 L996.66,256.25 L998.63,256.59 L1000.60,256.93 L1002.57,257.26 L1004.54,257.60 L1006.51,257.94 L1008.48,258.28 L1010.45,258.62 L1012.42,258.96 L1014.39,259.29 L1016.37,259.63 L1018.34,259.97 L1020.31,260.31 L1022.28,260.65 L1024.25,260.99 L1026.22,261.33 L1028.19,261.67 L1030.16,262.01 L1032.13,262.35 L1034.10,262.69 L1036.07,263.03 L1038.04,263.36 L1040.01,263.70 L1041.98,264.04 L1043.96,264.38 L1045.93,264.72 L1047.90,265.06 L1049.87,265.40 L1051.84,265.74 L1053.81,266.08 L1055.78,266.42 L1057.75,266.76 L1059.72,267.10 L1061.69,267.44 L1063.66,267.78 L1065.63,268.12 L1067.60,268.46 L1069.57,268.80 L1071.54,269.14 L1073.52,269.48 L1075.49,269.82 L1077.46,270.16 L1079.43,270.50 L1081.40,270.84 L1083.37,271.18 L1085.34,271.52 L1087.31,271.86 L1089.28,272.20 L1091.25,272.54 L1093.22,272.88 L1095.19,273.22 L1097.16,273.56 L1099.13,273.90 L1101.10,274.24 L1103.08,274.58 L1105.05,274.92 L1107.02,275.26 L1108.99,275.59 L1110.96,275.93 L1112.93,276.27 L1114.90,276.61 L1116.87,276.95 L1118.84,277.29 L1120.81,277.63 L1122.78,277.96 L1124.75,278.30 L1126.73,278.64 L1128.70,278.98 L1130.67,279.32 L1132.64,279.65 L1134.61,279.99 L1136.58,280.33 L1138.55,280.67 L1140.52,281.00 L1142.49,281.34 L1144.47,281.68 L1146.44,282.01 L1148.41,282.35 L1150.38,282.69 L1152.35,283.02 L1154.32,283.36 L1156.29,283.70 L1158.26,284.03 L1160.24,284.37 L1162.21,284.70 L1164.18,285.04 L1166.15,285.38 L1168.12,285.71 L1170.09,286.05 L1172.06,286.38 L1174.04,286.72 L1176.01,287.05 L1177.98,287.38 L1179.95,287.72 L1181.92,288.05 L1183.89,288.39 L1185.87,288.72 L1187.84,289.05 L1189.81,289.39 L1191.78,289.72 L1193.75,290.05 L1195.72,290.39 L1197.70,290.72 L1199.67,291.05 L1201.64,291.38 L1203.61,291.71 L1205.58,292.05 L1207.56,292.38 L1209.53,292.71 L1211.50,293.04 L1213.47,293.37 L1215.44,293.70 L1217.42,294.03 L1219.39,294.36 L1221.36,294.69 L1223.33,295.02 L1225.31,295.35 L1227.28,295.68 L1229.25,296.01 L1231.22,296.34 L1233.20,296.67 L1235.17,297.00 L1237.14,297.33 L1239.11,297.65 L1241.09,297.98 L1243.06,298.31 L1245.03,298.64 L1247.00,298.96 L1248.98,299.29 L1250.95,299.62 L1252.92,299.95 L1254.90,300.27 L1256.87,300.60 L1258.84,300.92 L1260.81,301.25 L1262.79,301.57 L1264.76,301.90 L1266.73,302.23 L1268.71,302.55 L1270.68,302.87 L1272.65,303.20 L1274.63,303.52 L1276.60,303.85 L1278.57,304.17 L1280.55,304.49 L1282.52,304.82 L1284.49,305.14 L1286.47,305.46 L1288.44,305.78 L1290.42,306.11 L1292.39,306.43 L1294.36,306.75 L1296.34,307.07 L1298.31,307.39 L1300.28,307.71 L1302.26,308.03 L1304.23,308.35 L1306.21,308.67 L1308.18,308.99 L1310.15,309.31 L1312.13,309.63 L1314.10,309.95 L1316.08,310.27 L1318.05,310.59 L1320.02,310.91 L1322.00,311.22 L1323.97,311.54 L1325.95,311.86 L1327.92,312.18 L1329.90,312.49 L1331.87,312.81 L1333.85,313.13 L1335.82,313.44 L1337.79,313.76 L1339.77,314.07 L1341.74,314.39 L1343.72,314.70 L1345.69,315.02 L1347.67,315.33 L1349.64,315.65 L1351.62,315.96 L1353.59,316.27 L1355.57,316.59 L1357.54,316.90 L1359.52,317.21 L1361.49,317.53 L1363.47,317.84 L1365.44,318.15 L1367.42,318.46 L1369.39,318.77 L1371.37,319.09 L1373.35,319.40 L1375.32,319.71 L1377.30,320.02 L1379.27,320.33 L1381.25,320.64 L1383.22,320.95 L1385.20,321.26 L1387.17,321.57 L1389.15,321.87 L1391.13,322.18 L1393.10,322.49 L1395.08,322.80 L1397.05,323.11 L1399.03,323.41 L1401.01,323.72 L1402.98,324.03 L1404.96,324.33 L1406.93,324.64 L1408.91,324.95 L1410.89,325.25 L1412.86,325.56 L1414.84,325.86 L1416.82,326.17 L1418.79,326.47 L1420.77,326.78 L1422.75,327.08 L1424.72,327.38 L1426.70,327.69 L1428.68,327.99 L1430.65,328.29 L1432.63,328.59 L1434.61,328.90 L1436.58,329.20 L1438.56,329.50 L1440.54,329.80 L1442.51,330.10 L1444.49,330.40 L1446.47,330.70 L1448.44,331.00 L1450.42,331.30 L1452.40,331.60 L1454.38,331.90 L1456.35,332.20 L1458.33,332.50 L1460.31,332.80 L1462.28,333.10 L1464.26,333.40 L1466.24,333.69 L1468.22,333.99 L1470.19,334.29 L1472.17,334.58 L1474.15,334.88 L1476.13,335.18 L1478.11,335.47 L1480.08,335.77 L1482.06,336.06 L1484.04,336.36 L1486.02,336.65 L1487.99,336.95 L1489.97,337.24 L1491.95,337.54 L1493.93,337.83 L1495.91,338.12 L1497.88,338.42 L1499.86,338.71 L1501.84,339.00 L1503.82,339.29 L1505.80,339.58 L1507.78,339.88 L1509.75,340.17 L1511.73,340.46 L1513.71,340.75 L1515.69,341.04 L1517.67,341.33 L1519.65,341.62 L1521.63,341.91 L1523.60,342.20 L1525.58,342.49 L1527.56,342.78 L1529.54,343.06 L1531.52,343.35 L1533.50,343.64 L1535.48,343.93 L1537.46,344.21 L1539.44,344.50 L1541.42,344.79 L1543.39,345.07 L1545.37,345.36 L1547.35,345.65 L1549.33,345.93 L1551.31,346.22 L1553.29,346.50 L1555.27,346.79 L1557.25,347.07 L1559.23,347.35 L1561.21,347.64 L1563.19,347.92 L1565.17,348.21 L1567.15,348.49 L1569.13,348.77 L1571.11,349.05 L1573.09,349.33 L1575.07,349.62 L1577.05,349.90 L1579.03,350.18 L1581.01,350.46 L1582.99,350.74 L1584.97,351.02 L1586.95,351.30 L1588.93,351.58 L1590.91,351.86 L1592.89,352.14 L1594.87,352.42 L1596.85,352.70 L1598.83,352.97 L1600.81,353.25 L1602.79,353.53 L1604.77,353.81 L1606.75,354.08 L1608.73,354.36 L1610.71,354.64 L1612.69,354.91 L1614.67,355.19 L1616.65,355.47 L1618.63,355.74 L1620.61,356.02 L1622.59,356.29 L1624.57,356.57 L1626.55,356.84 L1628.54,357.11 L1630.52,357.39 L1632.50,357.66 L1634.48,357.93 L1636.46,358.21 L1638.44,358.48 L1640.42,358.75 L1642.40,359.02 L1644.38,359.30 L1646.37,359.57 L1648.35,359.84 L1650.33,360.11 L1652.31,360.38 L1654.29,360.65 L1656.27,360.92 L1658.25,361.19 L1660.24,361.46 L1662.22,361.73 L1664.20,362.00 L1666.18,362.27 L1668.16,362.53 L1670.14,362.80 L1672.12,363.07 L1674.11,363.34 L1676.09,363.60 L1678.07,363.87 L1680.05,364.14 L1682.03,364.40 L1684.02,364.67 L1686.00,364.94 L1687.98,365.20 L1689.96,365.47 L1691.94,365.73 L1693.93,366.00 L1695.91,366.26 L1697.89,366.52 L1699.87,366.79 L1701.86,367.05 L1703.84,367.31 L1705.82,367.58 L1707.80,367.84 L1709.79,368.10 L1711.77,368.36 L1713.75,368.63 L1715.73,368.89 L1717.72,369.15 L1719.70,369.41 L1721.68,369.67 L1723.66,369.93 L1725.65,370.19 L1727.63,370.45 L1729.61,370.71 L1731.59,370.97 L1733.58,371.23 L1735.56,371.49 L1737.54,371.75 L1739.53,372.01 L1741.51,372.26 L1743.49,372.52 L1745.48,372.78 L1747.46,373.04 L1749.44,373.29 L1751.42,373.55 L1753.41,373.81 L1755.39,374.06 L1757.37,374.32 L1759.36,374.57 L1761.34,374.83 L1763.32,375.08 L1765.31,375.34 L1767.29,375.59 L1769.28,375.85 L1771.26,376.10 L1773.24,376.35 L1775.23,376.61 L1777.21,376.86 L1779.19,377.11 L1781.18,377.37 L1783.16,377.62 L1785.14,377.87 L1787.13,378.12 L1789.11,378.37 L1791.10,378.62 L1793.08,378.87 L1795.06,379.13 L1797.05,379.38 L1799.03,379.63 L1801.02,379.88 L1803.00,380.13 L1804.98,380.37 L1806.97,380.62 L1808.95,380.87 L1810.94,381.12 L1812.92,381.37 L1814.91,381.62 L1816.89,381.86 L1818.87,382.11 L1820.86,382.36 L1822.84,382.61 L1824.83,382.85 L1826.81,383.10 L1828.80,383.35 L1830.78,383.59 L1832.77,383.84 L1834.75,384.08 L1836.74,384.33 L1838.72,384.57 L1840.70,384.82 L1842.69,385.06 L1844.67,385.30 L1846.66,385.55 L1848.64,385.79 L1850.63,386.04 L1852.61,386.28 L1854.60,386.52 L1856.58,386.76 L1858.57,387.01 L1860.55,387.25 L1862.54,387.49 L1864.52,387.73 L1866.51,387.97 L1868.49,388.21 L1870.48,388.45 L1872.46,388.69 L1874.45,388.93 L1876.44,389.17 L1878.42,389.41 L1880.41,389.65 L1882.39,389.89 L1884.38,390.13 L1886.36,390.37 L1888.35,390.61 L1890.33,390.85 L1892.32,391.08 L1894.30,391.32 L1896.29,391.56 L1898.28,391.80 L1900.26,392.03 L1902.25,392.27 L1904.23,392.50 L1906.22,392.74 L1908.20,392.98 L1910.19,393.21 L1912.18,393.45 L1914.16,393.68 L1916.15,393.92 L1918.13,394.15 L1920.12,394.39 L1922.11,394.62 L1924.09,394.85 L1926.08,395.09 L1928.06,395.32 L1930.05,395.55 L1932.04,395.79 L1934.02,396.02 L1936.01,396.25 L1937.99,396.48 L1939.98,396.71 L1941.97,396.95 L1943.95,397.18 L1945.94,397.41 L1947.93,397.64 L1949.91,397.87 L1951.90,398.10 L1953.89,398.33 L1955.87,398.56 L1957.86,398.79 L1959.85,399.02 L1961.83,399.25 L1963.82,399.48 L1965.80,399.70 L1967.79,399.93 L1969.78,400.16 L1971.77,400.39 L1973.75,400.62 L1975.74,400.84 L1977.73,401.07 L1979.71,401.30 L1981.70,401.52 L1983.69,401.75 L1985.67,401.98 L1987.66,402.20 L1989.65,402.43 L1991.63,402.65 L1993.62,402.88 L1995.61,403.10 L1997.59,403.33 L1999.58,403.55 L2001.57,403.78 L2003.56,404.00 L2005.54,404.22 L2007.53,404.45 L2009.52,404.67 L2011.51,404.89 L2013.49,405.12 L2015.48,405.34 L2017.47,405.56 L2019.45,405.78 L2021.44,406.00 L2023.43,406.23 L2025.42,406.45 L2027.40,406.67 L2029.39,406.89 L2031.38,407.11 L2033.37,407.33 L2035.35,407.55 L2037.34,407.77 L2039.33,407.99 L2041.32,408.21 L2043.31,408.43 L2045.29,408.65 L2047.28,408.86 L2049.27,409.08 L2051.26,409.30 L2053.24,409.52 L2055.23,409.74 L2057.22,409.95 L2059.21,410.17 L2061.20,410.39 L2063.18,410.61 L2065.17,410.82 L2067.16,411.04 L2069.15,411.25 L2071.14,411.47 L2073.12,411.69 L2075.11,411.90 L2077.10,412.12" stroke="#000000"/>
</g>
<g stroke="#000" stroke-width="5.9" fill="none" stroke-linecap="round">
<rect x="239.5" y="47.2" width="1950.8000000000002" height="1438.8" stroke-linejoin="miter"/>
<path stroke-width="5.7" d="M239.50,1486.0 v28.4 M239.50,47.2 v28.4 M347.88,1486.0 v14.0 M347.88,47.2 v14.0 M456.26,1486.0 v28.4 M456.26,47.2 v28.4 M564.63,1486.0 v14.0 M564.63,47.2 v14.0 M673.01,1486.0 v28.4 M673.01,47.2 v28.4 M781.39,1486.0 v14.0 M781.39,47.2 v14.0 M889.77,1486.0 v28.4 M889.77,47.2 v28.4 M998.14,1486.0 v14.0 M998.14,47.2 v14.0 M1106.52,1486.0 v28.4 M1106.52,47.2 v28.4 M1214.90,1486.0 v14.0 M1214.90,47.2 v14.0 M1323.28,1486.0 v28.4 M1323.28,47.2 v28.4 M1431.66,1486.0 v14.0 M1431.66,47.2 v14.0 M1540.03,1486.0 v28.4 M1540.03,47.2 v28.4 M1648.41,1486.0 v14.0 M1648.41,47.2 v14.0 M1756.79,1486.0 v28.4 M1756.79,47.2 v28.4 M1865.17,1486.0 v14.0 M1865.17,47.2 v14.0 M1973.54,1486.0 v28.4 M1973.54,47.2 v28.4 M2081.92,1486.0 v14.0 M2081.92,47.2 v14.0 M2190.30,1486.0 v28.4 M2190.30,47.2 v28.4 M239.5,47.20 h-28.4 M2190.3,47.20 h-28.4 M239.5,287.00 h-14.0 M2190.3,287.00 h-14.0 M239.5,526.80 h-28.4 M2190.3,526.80 h-28.4 M239.5,766.60 h-14.0 M2190.3,766.60 h-14.0 M239.5,1006.40 h-28.4 M2190.3,1006.40 h-28.4 M239.5,1246.20 h-14.0 M2190.3,1246.20 h-14.0 M239.5,1486.00 h-28.4 M2190.3,1486.00 h-28.4"/>
</g>
<g clip-path="url(#page)">
<text transform="translate(223.40,1579.10)"><tspan x="0.00" y="0.00" font-size="66.92px" textLength="35.76" lengthAdjust="spacingAndGlyphs">0</tspan></text>
<text transform="translate(424.06,1579.10)"><tspan x="0.00" y="0.00" font-size="66.92px" textLength="71.52" lengthAdjust="spacingAndGlyphs">20</tspan></text>
<text transform="translate(640.81,1579.10)"><tspan x="0.00" y="0.00" font-size="66.92px" textLength="71.52" lengthAdjust="spacingAndGlyphs">40</tspan></text>
<text transform="translate(857.57,1579.10)"><tspan x="0.00" y="0.00" font-size="66.92px" textLength="71.52" lengthAdjust="spacingAndGlyphs">60</tspan></text>
<text transform="translate(1074.32,1579.10)"><tspan x="0.00" y="0.00" font-size="66.92px" textLength="71.52" lengthAdjust="spacingAndGlyphs">80</tspan></text>
<clipPath id="c1"><path clip-rule="evenodd" d="M-3000,-3000H3000V3000H-3000ZM5.50,-6.00H18.27V1.50H5.50ZM23.96,-6.00H36.22V1.50H23.96Z"/></clipPath><text transform="translate(1274.98,1579.10)" clip-path="url(#c1)"><tspan x="2.10" y="0.00" font-size="66.92px" textLength="35.76" lengthAdjust="spacingAndGlyphs">1</tspan><tspan x="35.76" y="0.00" font-size="66.92px" textLength="71.52" lengthAdjust="spacingAndGlyphs">00</tspan></text>
<clipPath id="c2"><path clip-rule="evenodd" d="M-3000,-3000H3000V3000H-3000ZM5.50,-6.00H18.27V1.50H5.50ZM23.96,-6.00H36.22V1.50H23.96Z"/></clipPath><text transform="translate(1491.73,1579.10)" clip-path="url(#c2)"><tspan x="2.10" y="0.00" font-size="66.92px" textLength="35.76" lengthAdjust="spacingAndGlyphs">1</tspan><tspan x="35.76" y="0.00" font-size="66.92px" textLength="71.52" lengthAdjust="spacingAndGlyphs">20</tspan></text>
<clipPath id="c3"><path clip-rule="evenodd" d="M-3000,-3000H3000V3000H-3000ZM5.50,-6.00H18.27V1.50H5.50ZM23.96,-6.00H36.22V1.50H23.96Z"/></clipPath><text transform="translate(1708.49,1579.10)" clip-path="url(#c3)"><tspan x="2.10" y="0.00" font-size="66.92px" textLength="35.76" lengthAdjust="spacingAndGlyphs">1</tspan><tspan x="35.76" y="0.00" font-size="66.92px" textLength="71.52" lengthAdjust="spacingAndGlyphs">40</tspan></text>
<clipPath id="c4"><path clip-rule="evenodd" d="M-3000,-3000H3000V3000H-3000ZM5.50,-6.00H18.27V1.50H5.50ZM23.96,-6.00H36.22V1.50H23.96Z"/></clipPath><text transform="translate(1925.24,1579.10)" clip-path="url(#c4)"><tspan x="2.10" y="0.00" font-size="66.92px" textLength="35.76" lengthAdjust="spacingAndGlyphs">1</tspan><tspan x="35.76" y="0.00" font-size="66.92px" textLength="71.52" lengthAdjust="spacingAndGlyphs">60</tspan></text>
<clipPath id="c5"><path clip-rule="evenodd" d="M-3000,-3000H3000V3000H-3000ZM5.50,-6.00H18.27V1.50H5.50ZM23.96,-6.00H36.22V1.50H23.96Z"/></clipPath><text transform="translate(2142.00,1579.10)" clip-path="url(#c5)"><tspan x="2.10" y="0.00" font-size="66.92px" textLength="35.76" lengthAdjust="spacingAndGlyphs">1</tspan><tspan x="35.76" y="0.00" font-size="66.92px" textLength="71.52" lengthAdjust="spacingAndGlyphs">80</tspan></text>
<text transform="translate(159.74,63.40)"><tspan x="0.00" y="0.00" font-size="66.92px" textLength="35.76" lengthAdjust="spacingAndGlyphs">2</tspan></text>
<text transform="translate(159.74,543.00)"><tspan x="0.00" y="0.00" font-size="66.92px" textLength="35.76" lengthAdjust="spacingAndGlyphs">0</tspan></text>
<text transform="translate(122.19,1022.60)"><tspan x="0.00" y="0.00" font-size="66.92px" textLength="73.31" lengthAdjust="spacingAndGlyphs">−2</tspan></text>
<text transform="translate(122.19,1502.20)"><tspan x="0.00" y="0.00" font-size="66.92px" textLength="73.31" lengthAdjust="spacingAndGlyphs">−4</tspan></text>
</g>
<text transform="translate(1111.55,1691.20)"><tspan x="0.00" y="0.00" font-size="78.80px" textLength="229.98" lengthAdjust="spacingAndGlyphs">h (nm)</tspan></text>
<clipPath id="c6"><path clip-rule="evenodd" d="M-3000,-3000H3000V3000H-3000ZM219.99,-7.14H235.34V1.50H219.99ZM242.32,-7.14H257.05V1.50H242.32Z"/></clipPath><text transform="translate(89.60,979.00) rotate(-90)" clip-path="url(#c6)"><tspan x="0.00" y="0.00" font-size="82.22px" textLength="74.64" lengthAdjust="spacingAndGlyphs">E </tspan><tspan x="74.64" y="0.00" font-size="78.21px" textLength="26.31" lengthAdjust="spacingAndGlyphs">(</tspan><tspan x="100.95" y="0.00" font-size="82.22px" textLength="39.50" lengthAdjust="spacingAndGlyphs">J</tspan><tspan x="140.45" y="0.00" font-size="78.21px" textLength="26.31" lengthAdjust="spacingAndGlyphs">)</tspan><tspan x="166.76" y="0.00" font-size="82.22px" textLength="46.13" lengthAdjust="spacingAndGlyphs">×</tspan><tspan x="215.48" y="0.00" font-size="82.22px" textLength="43.94" lengthAdjust="spacingAndGlyphs">1</tspan><tspan x="256.83" y="0.00" font-size="82.22px" textLength="43.94" lengthAdjust="spacingAndGlyphs">0</tspan></text>
<clipPath id="c7"><path clip-rule="evenodd" d="M-3000,-3000H3000V3000H-3000ZM3.84,-4.81H13.92V1.50H3.84ZM18.26,-4.81H27.96V1.50H18.26Z"/></clipPath><text transform="translate(50.80,688.50) rotate(-90)" clip-path="url(#c7)"><tspan x="1.60" y="0.00" font-size="50.99px" textLength="27.25" lengthAdjust="spacingAndGlyphs">1</tspan><tspan x="27.25" y="0.00" font-size="50.99px" textLength="27.25" lengthAdjust="spacingAndGlyphs">5</tspan></text>
<clipPath id="c8"><path clip-rule="evenodd" d="M-3000,-3000H3000V3000H-3000ZM66.49,-4.89H76.76V1.50H66.49ZM81.18,-4.89H91.05V1.50H81.18ZM108.19,-4.89H118.46V1.50H108.19ZM122.88,-4.89H132.75V1.50H122.88ZM248.62,-4.89H258.89V1.50H248.62ZM263.31,-4.89H273.18V1.50H263.31ZM321.31,-23.88H328.51V-18.85H321.31ZM331.38,-23.88H338.32V-18.85H331.38Z"/></clipPath><text transform="translate(684.10,359.75)" clip-path="url(#c8)"><tspan x="0.00" y="0.00" font-size="52.03px" textLength="62.55" lengthAdjust="spacingAndGlyphs">E=</tspan><tspan x="64.18" y="0.00" font-size="52.03px" textLength="27.81" lengthAdjust="spacingAndGlyphs">1</tspan><tspan x="90.36" y="0.00" font-size="52.03px" textLength="13.89" lengthAdjust="spacingAndGlyphs">.</tspan><tspan x="105.88" y="0.00" font-size="52.03px" textLength="27.81" lengthAdjust="spacingAndGlyphs">1</tspan><tspan x="132.06" y="0.00" font-size="52.03px" textLength="112.62" lengthAdjust="spacingAndGlyphs">065×</tspan><tspan x="246.31" y="0.00" font-size="52.03px" textLength="27.81" lengthAdjust="spacingAndGlyphs">1</tspan><tspan x="272.49" y="0.00" font-size="52.03px" textLength="27.81" lengthAdjust="spacingAndGlyphs">0</tspan><tspan x="300.29" y="-20.35" font-size="33.82px" textLength="18.98" lengthAdjust="spacingAndGlyphs">−</tspan><tspan x="320.34" y="-20.35" font-size="33.82px" textLength="18.07" lengthAdjust="spacingAndGlyphs">1</tspan><tspan x="337.35" y="-20.35" font-size="33.82px" textLength="18.07" lengthAdjust="spacingAndGlyphs">5</tspan><tspan x="355.42" y="0.00" font-size="52.03px" textLength="38.89" lengthAdjust="spacingAndGlyphs"> J</tspan></text>
<text transform="translate(684.00,456.30)"><tspan x="0.00" y="0.00" font-size="49.50px" textLength="27.81" lengthAdjust="spacingAndGlyphs">h</tspan><tspan x="27.81" y="8.20" font-size="32.17px" textLength="16.25" lengthAdjust="spacingAndGlyphs">c</tspan><tspan x="44.06" y="0.00" font-size="52.03px" textLength="98.71" lengthAdjust="spacingAndGlyphs">=40 </tspan><tspan x="142.76" y="0.00" font-size="49.50px" textLength="69.46" lengthAdjust="spacingAndGlyphs">nm</tspan></text>
<g fill="#000" stroke="none">
<rect x="665.65" y="269.0" width="3.3" height="238.10000000000002"/>
<path d="M667.3,259.0 L675.6999999999999,282.2 L667.3,278.4 L658.9,282.2 Z"/>
<path d="M667.3,517.1 L675.6999999999999,493.90000000000003 L667.3,497.70000000000005 L658.9,493.90000000000003 Z"/>
</g>
<g stroke-width="6.3" stroke-linecap="round">
<line x1="1453.9" y1="1145.9" x2="1615.4" y2="1145.9" stroke="#000000"/>
<line x1="1453.9" y1="1235.5" x2="1615.4" y2="1235.5" stroke="#ff0000"/>
<line x1="1453.9" y1="1325.2" x2="1615.4" y2="1325.2" stroke="#00ff00"/>
</g>
<text transform="translate(1636.00,1170.10)"><tspan x="0.00" y="0.00" font-size="84.71px" textLength="177.94" lengthAdjust="spacingAndGlyphs">EDL </tspan><tspan x="177.94" y="0.00" font-size="80.59px" textLength="248.89" lengthAdjust="spacingAndGlyphs">energy</tspan></text>
<text transform="translate(1636.00,1259.70)"><tspan x="0.00" y="0.00" font-size="84.71px" textLength="194.48" lengthAdjust="spacingAndGlyphs">HYD </tspan><tspan x="194.48" y="0.00" font-size="80.59px" textLength="248.89" lengthAdjust="spacingAndGlyphs">energy</tspan></text>
<text transform="translate(1636.00,1349.30)"><tspan x="0.00" y="0.00" font-size="84.71px" textLength="49.72" lengthAdjust="spacingAndGlyphs">T</tspan><tspan x="40.70" y="0.00" font-size="80.59px" textLength="402.75" lengthAdjust="spacingAndGlyphs">otal energy</tspan></text>
</svg></body></html>
